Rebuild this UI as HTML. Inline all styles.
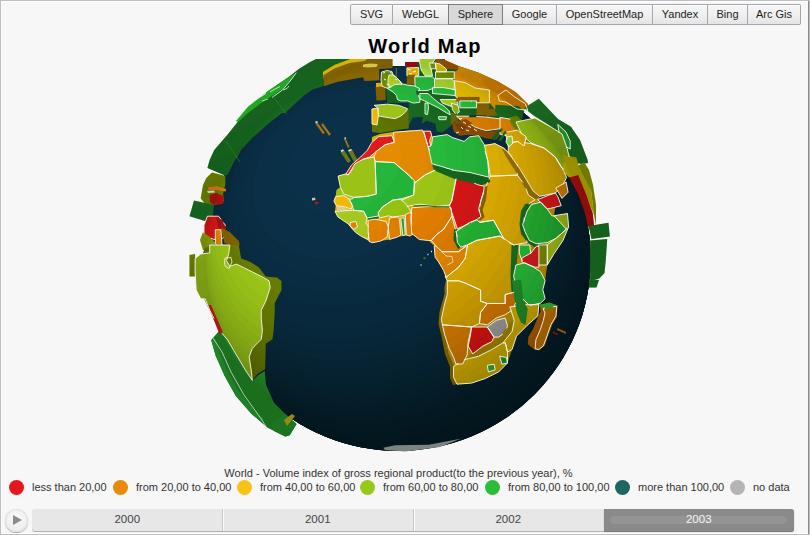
<!DOCTYPE html>
<html><head><meta charset="utf-8">
<style>
*{box-sizing:border-box;margin:0;padding:0}
html,body{width:810px;height:535px;overflow:hidden;background:#bfbfbf;font-family:"Liberation Sans",sans-serif}
#frame{position:absolute;left:1px;top:1px;width:807px;height:533px;background:#f7f7f7;box-shadow:inset 1px 1px 0 #fdfdfd,inset 0 -1px 0 #fdfdfd}
#rline{position:absolute;left:808px;top:1px;width:1px;height:533px;background:#8a8a8a}
.btn{position:absolute;top:4px;height:21px;border:1px solid #a4a6b0;border-left:none;background:linear-gradient(#f6f6f6,#f0f0f0 50%,#e4e4e4);font-size:11px;color:#222;text-align:center;line-height:18px;box-shadow:inset 0 1px 0 #fff}
.btn.first{border-left:1px solid #a4a6b0;border-radius:2px 0 0 2px}
.btn.last{border-radius:0 2px 2px 0}
.btn.nor{border-right:none}
.btn.sel{background:#d8d8d8;border:1px solid #7c7c7c;box-shadow:none}
#title{position:absolute;left:0;width:850px;top:34.5px;text-align:center;font-weight:bold;font-size:20px;letter-spacing:1.3px;color:#000}
#globe{position:absolute;left:0;top:0}
#ltitle{position:absolute;left:0;width:797px;top:466.5px;text-align:center;font-size:11px;color:#333}
.li{position:absolute;top:480px;height:15px;font-size:11px;color:#333;line-height:15px;white-space:nowrap}
.li i{position:absolute;left:0;top:0;width:15px;height:15px;border-radius:50%}
.li span{position:absolute;left:23px;top:0}
#play{position:absolute;left:5px;top:509px;width:23px;height:23px;border-radius:50%;background:radial-gradient(circle at 50% 40%,#fafafa,#e8e8e8);box-shadow:0 1px 1px #aaa, inset 0 0 0 1px #e0e0e0}
#play:after{content:"";position:absolute;left:8px;top:6px;border-left:9px solid #8c8c8c;border-top:5.5px solid transparent;border-bottom:5.5px solid transparent}
#tl{position:absolute;left:32px;top:509px;width:762px;height:22px;background:#e7e7e7;border-radius:3px;box-shadow:0 1px 0 #b0b0b0}
.yr{position:absolute;top:0;height:22px;width:190.5px;text-align:center;font-size:11.5px;line-height:20px;color:#444}
.div{position:absolute;top:0;width:1px;height:22px;background:#fafafa;box-shadow:-1px 0 0 #c8c8c8}
.yr.sel{background:#8a8a8a;color:#f4f4f4;border-radius:0 3px 3px 0;box-shadow:0 1px 1px #777}
.yr.sel:before{content:"";position:absolute;left:6px;right:7px;top:7px;height:8px;border-radius:4px;background:#949494}
.yr.sel b{position:relative;font-weight:normal}
</style></head><body>
<div id="frame"></div><div id="rline"></div>
<div class="btn first" style="left:350px;width:43px">SVG</div>
<div class="btn nor" style="left:393px;width:55px">WebGL</div>
<div class="btn sel" style="left:448px;width:55px">Sphere</div>
<div class="btn" style="left:503px;width:54px">Google</div>
<div class="btn" style="left:557px;width:96px">OpenStreetMap</div>
<div class="btn" style="left:653px;width:55px">Yandex</div>
<div class="btn" style="left:708px;width:40px">Bing</div>
<div class="btn last" style="left:748px;width:53px">Arc Gis</div>
<div id="title">World Map</div>
<svg id="globe" width="810" height="535" viewBox="0 0 810 535">
<defs>

<clipPath id="sph"><circle cx="398.3" cy="258.6" r="192.4"/></clipPath>
<clipPath id="landclip"><circle cx="398.3" cy="258.6" r="192.4"/>
<polygon points="207.4,168.0 209.6,160.0 214.2,150.0 227.4,134.8 246.0,111.4 268.5,90.8 290.0,75.9 298.7,69.0 310.0,62.0 318.0,58.0 351.0,58.0 349.6,59.5 334.8,65.0 323.0,72.0 324.0,80.0 326.7,84.9 312.7,89.6 304.3,95.2 293.0,105.5 285.0,113.0 281.6,113.3 268.5,123.6 251.7,138.5 241.0,150.0 237.7,156.7 234.9,160.0 227.6,174.7 225.4,175.8"/>
<polygon points="236.0,121.0 248.2,106.4 269.0,90.3 283.0,81.0 296.3,72.7 291.0,80.0 282.5,89.0 272.0,96.0 260.0,104.0 248.0,113.0 238.0,122.0"/>
<polygon points="323.0,72.0 334.8,65.0 349.6,59.5 351.0,58.0 392.6,58.0 392.6,68.3 379.3,69.1 379.3,80.2 364.4,80.9 363.0,77.2 337.8,81.7 324.4,86.1"/>
<polygon points="323.0,72.0 334.8,65.0 349.6,59.5 351.0,58.0 369.0,58.0 364.4,60.9 349.6,63.1 334.8,68.3 323.0,75.5"/>
<polygon points="363.0,64.5 370.0,63.5 377.8,63.9 376.5,67.0 368.0,67.6 363.0,67.0"/>
<polygon points="200.7,198.3 203.0,185.0 206.3,178.1 212.0,172.5 218.0,174.0 225.3,175.9 225.3,184.8 223.1,193.8 224.0,201.0 216.0,205.0 209.7,206.0 207.4,207.3"/>
<polygon points="209.7,195.0 216.0,193.0 224.2,196.0 223.0,204.0 214.0,205.0 210.0,202.0"/>
<polygon points="208.0,187.5 216.0,186.0 226.0,189.0 226.0,191.5 216.0,190.0 208.0,190.0"/>
<polygon points="207.0,191.0 214.0,190.5 215.0,192.5 208.0,193.0"/>
<polygon points="189.5,216.2 194.0,200.5 214.1,205.0 211.9,221.8 207.4,221.8"/>
<polygon points="204.0,225.2 207.4,216.2 218.6,216.2 225.3,225.2 225.3,236.4 218.6,240.9 211.9,238.6 207.4,238.6 204.0,234.2"/>
<polygon points="216.0,217.0 222.0,219.0 226.0,226.0 226.0,236.0 221.0,238.0"/>
<polygon points="215.3,229.7 220.9,229.7 222.0,245.3 218.6,247.6 215.3,243.1"/>
<polygon points="220.9,227.4 229.8,231.9 238.8,240.9 239.9,245.3 229.8,245.3 224.2,243.1"/>
<polygon points="203.0,232.0 211.9,238.6 215.3,243.1 215.0,250.0 203.0,250.0 200.0,240.0"/>
<polygon points="229.9,245.0 238.8,245.0 241.1,258.5 250.0,261.8 259.0,267.4 265.8,276.4 277.0,277.5 281.5,280.9 281.5,289.9 274.7,303.3 274.7,312.3 273.6,330.2 272.5,339.2 265.8,343.7 265.1,369.2 258.3,373.6 251.6,380.4 249.3,367.0 241.0,356.0 230.0,345.0 214.0,320.0 200.0,290.0 196.0,270.0 205.0,248.0 215.0,244.0"/>
<polygon points="189.5,255.0 195.1,254.0 195.1,276.4 189.5,276.4"/>
<polygon points="211.2,340.0 218.6,331.4 223.5,330.0 227.6,340.0 233.8,350.6 240.0,361.0 246.0,371.0 252.3,380.4 258.5,375.0 264.7,371.0 266.0,385.0 274.0,402.8 285.2,414.0 296.5,424.1 289.7,435.3 285.2,436.5 267.3,427.5 251.6,414.0 235.9,396.1 224.7,375.9 215.7,355.7"/>
<polygon points="211.2,340.0 215.7,355.7 224.7,375.9 235.9,396.1 251.6,414.0 262.0,422.0 264.0,419.0 254.0,410.0 240.0,393.0 229.0,374.0 220.0,354.0 215.5,339.0"/>
<polygon points="270.0,425.0 285.0,414.0 296.5,424.1 289.7,435.3 285.2,436.5 274.0,431.0"/>
<polygon points="284.0,420.0 292.0,414.0 295.0,416.0 287.0,426.0"/>
<polygon points="195.1,258.5 200.7,254.0 209.7,252.9 209.7,245.0 229.9,245.0 228.7,254.0 226.5,260.7 229.9,266.3 236.6,264.1 243.3,267.4 252.3,271.9 263.5,277.5 269.1,280.9 270.2,287.6 265.8,301.1 261.3,310.1 261.3,319.0 262.4,330.2 261.3,339.2 256.8,343.7 252.3,348.5 249.2,356.7 251.3,371.0 252.3,380.4 246.0,371.0 240.0,361.0 233.8,350.6 227.6,340.0 221.0,332.0 214.2,319.0 209.7,310.1 205.2,298.8 200.7,298.8 196.2,289.9 195.1,271.9"/>
<polygon points="208.0,305.0 211.0,305.0 222.0,330.0 223.0,334.0 219.0,333.0"/>
<polygon points="386.0,86.0 393.0,84.0 393.0,68.0 405.0,67.0 405.0,62.0 419.0,62.0 421.0,58.0 445.0,58.0 445.0,61.0 460.0,66.5 478.7,72.8 497.4,81.2 516.0,92.4 528.2,104.5 524.0,110.0 522.0,120.0 500.0,120.0 490.0,117.0 470.0,117.0 457.0,116.5 454.3,113.8 450.3,126.6 442.4,132.5 436.5,131.6 435.5,123.7 426.6,120.7 421.7,123.7 422.7,116.7 412.8,117.7 408.8,125.6 408.8,103.0 397.5,103.1 387.4,103.1"/>
<polygon points="393.0,67.5 406.0,67.0 406.9,70.0 406.9,83.0 401.0,84.5 398.6,81.8 396.4,77.3 393.0,72.8"/>
<polygon points="375.5,86.5 385.2,85.7 385.7,100.0 376.5,100.5"/>
<polygon points="376.0,83.0 384.5,82.5 384.8,86.5 376.0,87.0"/>
<polygon points="381.5,72.0 387.0,70.5 392.0,71.5 393.0,75.0 396.0,77.0 399.5,80.5 402.0,84.0 399.0,86.0 392.0,87.5 386.0,88.0 382.0,86.0 381.0,80.0"/>
<polygon points="389.0,75.0 393.0,75.0 396.0,77.0 399.5,80.5 402.0,84.0 399.0,86.0 392.0,87.5 388.0,86.0 388.0,80.0"/>
<polygon points="405.4,62.0 418.7,61.9 417.5,66.0 410.0,68.0 406.0,67.9"/>
<polygon points="406.9,67.9 418.7,67.5 418.7,75.8 406.9,75.8"/>
<polygon points="406.9,74.8 415.7,74.8 415.7,84.6 406.9,84.6"/>
<polygon points="419.0,58.0 436.0,58.0 432.5,62.9 431.0,68.0 432.5,75.8 425.0,75.8 421.2,70.0 419.5,62.0"/>
<polygon points="429.6,63.0 435.5,62.9 435.5,68.8 430.5,68.8"/>
<polygon points="436.0,58.0 445.0,60.0 452.0,63.0 458.2,66.0 458.2,69.8 446.4,69.0 440.0,64.0 435.5,62.9"/>
<polygon points="435.5,62.9 440.0,64.0 446.4,69.0 446.4,71.8 436.5,71.8"/>
<polygon points="445.0,60.0 460.0,66.5 478.7,72.8 497.4,81.2 516.0,92.4 528.2,104.5 524.3,109.9 520.0,112.7 497.3,112.0 489.4,102.8 489.4,90.0 475.0,88.0 465.0,82.5 454.3,80.7 454.3,71.8 458.2,69.8 458.2,66.0 452.0,63.0"/>
<polygon points="480.0,75.0 497.4,81.2 516.0,92.4 528.2,104.5 524.3,109.9 520.0,112.7 510.0,110.0 505.0,100.0 495.0,92.0 485.0,85.0"/>
<polygon points="435.5,71.8 454.3,71.8 454.3,78.7 435.5,78.7"/>
<polygon points="434.5,78.7 452.0,78.7 454.3,82.0 454.3,89.6 434.5,89.6"/>
<polygon points="454.3,80.7 465.0,82.5 475.0,88.0 489.4,90.0 489.4,102.8 476.5,102.8 455.8,96.9 455.2,89.6"/>
<polygon points="414.8,76.7 432.5,76.7 434.5,79.0 434.5,88.0 427.0,90.6 415.7,90.6 415.0,84.6"/>
<polygon points="387.4,88.5 395.0,84.5 403.0,84.0 407.6,85.2 414.8,86.0 419.7,88.6 417.7,94.0 420.0,99.0 419.7,102.4 413.2,103.1 407.6,100.9 400.9,100.9 397.5,99.7 396.4,95.3 393.0,91.9"/>
<polygon points="386.3,90.8 396.4,95.3 397.5,103.1 387.4,103.1"/>
<polygon points="415.7,90.6 426.6,90.6 426.6,95.5 417.0,95.5"/>
<polygon points="432.5,87.6 443.4,87.6 455.2,89.6 455.2,95.5 432.5,93.5"/>
<polygon points="419.7,93.5 428.0,93.5 433.5,98.6 439.1,103.1 444.7,106.5 449.2,111.0 450.3,114.8 446.4,112.8 438.5,107.9 430.6,103.9 424.6,100.9 420.0,99.0"/>
<polygon points="425.0,103.0 428.0,103.0 428.5,108.0 427.5,114.5 425.0,114.0"/>
<polygon points="438.5,116.7 446.4,116.7 446.0,119.7 439.0,119.7"/>
<polygon points="440.2,99.5 456.2,99.5 458.1,103.1 457.0,108.7 451.4,106.5 442.4,103.1"/>
<polygon points="451.4,103.1 458.1,105.3 459.3,112.1 455.9,114.3 452.5,109.8"/>
<polygon points="455.8,96.9 479.5,96.9 479.5,101.9 455.8,101.9"/>
<polygon points="459.8,100.9 476.5,100.9 476.5,107.8 459.8,107.8"/>
<polygon points="476.5,102.8 489.4,102.8 489.4,116.7 476.5,116.7"/>
<polygon points="484.4,108.8 497.3,108.8 497.3,115.7 484.4,115.7"/>
<polygon points="469.6,115.7 484.4,115.7 484.4,118.6 469.6,118.6"/>
<polygon points="374.0,111.0 376.2,116.0 395.0,118.7 399.9,115.8 407.8,108.8 408.8,109.0 408.8,128.6 400.9,129.6 395.0,130.6 380.0,133.0 372.0,132.0 371.9,125.0"/>
<polygon points="374.0,105.3 387.4,104.2 398.6,105.3 407.6,108.7 405.4,112.1 400.9,116.0 395.0,118.7 378.4,116.0 378.0,108.0"/>
<polygon points="371.9,109.0 378.0,108.0 378.4,116.0 377.0,125.0 372.0,124.0"/>
<polygon points="451.9,123.8 457.8,119.9 469.7,124.8 479.6,129.8 487.5,131.7 500.3,129.8 500.3,134.7 496.4,139.6 486.5,138.6 477.6,135.7 467.7,134.7 459.8,135.7 453.9,131.7"/>
<polygon points="455.0,125.0 460.0,123.0 466.0,127.0 464.0,131.0 458.0,130.0"/>
<polygon points="450.9,113.0 457.8,113.0 459.0,117.9 457.8,119.9 451.9,123.8 450.5,126.0"/>
<polygon points="456.5,116.2 469.7,116.2 484.5,116.9 500.3,118.9 510.2,120.9 514.1,125.8 509.2,129.8 500.3,128.8 492.4,129.8 486.5,130.7 479.6,128.8 474.6,126.8 469.7,123.8 462.8,121.9"/>
<polygon points="460.0,120.0 466.0,119.0 472.0,123.0 470.0,127.0 464.0,125.0"/>
<polygon points="468.7,115.4 486.5,115.4 486.5,117.0 468.7,117.2"/>
<polygon points="446.4,277.9 448.2,290.0 447.3,294.2 444.7,303.5 442.4,312.4 441.3,323.6 444.7,334.9 448.0,352.8 453.6,366.3 453.6,377.5 457.0,384.2 453.0,385.0 450.0,378.0 450.0,367.0 445.0,354.0 441.5,336.0 438.5,324.0 439.5,312.0 442.0,303.0 444.5,294.0 444.5,287.0"/>
<polygon points="372.0,137.0 380.0,134.0 393.0,132.0 410.0,130.5 423.7,131.0 430.5,131.0 432.7,136.8 447.3,134.6 452.3,137.5 464.1,141.4 469.7,136.8 478.7,135.7 484.0,144.5 495.0,143.6 501.6,148.1 508.3,152.6 519.5,168.3 526.3,179.5 533.0,190.8 539.7,196.4 538.3,200.0 556.3,200.0 554.0,215.7 567.5,213.5 568.6,226.9 563.0,240.4 554.0,253.8 547.3,265.0 545.1,280.8 542.8,289.7 545.1,298.7 540.6,303.2 538.9,304.0 537.8,315.9 527.7,324.9 516.5,336.1 512.0,349.6 507.5,363.0 498.5,372.0 485.1,378.6 471.6,383.1 457.0,384.2 453.6,377.5 453.6,366.3 448.0,352.8 444.7,334.9 441.3,323.6 442.4,312.4 444.7,303.5 447.3,294.2 448.2,290.0 446.4,277.9 443.6,270.4 438.0,261.0 435.1,257.3 434.2,246.1 428.6,240.5 419.3,239.5 413.6,234.9 404.3,235.8 397.3,237.1 389.5,239.4 380.5,241.1 372.6,242.7 369.3,241.6 362.5,237.1 355.8,232.6 351.3,228.2 348.0,223.7 341.2,219.2 337.9,216.9 335.0,211.3 335.6,205.7 333.9,201.2 336.2,194.5 336.7,190.0 340.4,187.3 338.1,176.1 346.0,173.8 348.2,175.0 353.8,167.1 358.3,163.7 362.8,159.3 369.5,157.0 376.3,151.4 371.8,142.4"/>
<polygon points="483.0,146.0 495.0,143.6 504.0,148.0 511.0,155.0 517.0,164.0 524.0,184.0 528.5,195.2 535.0,199.7 528.0,204.0 524.0,215.0 527.0,242.0 515.0,246.0 516.0,265.0 513.6,276.3 515.9,292.0 505.0,303.5 487.0,303.5 480.6,301.2 480.6,290.0 446.9,290.0 447.3,276.3 458.5,267.3 465.2,258.3 467.5,244.9 476.5,240.4 483.0,218.0 480.0,200.0 486.0,186.0 490.0,176.0"/>
<polygon points="371.8,142.4 378.5,136.8 392.0,135.7 394.2,142.4 385.2,144.7 376.3,151.4 369.5,157.0 362.8,159.3 358.3,163.7 353.8,167.1 348.2,175.0 346.0,173.8 351.6,164.9 360.6,157.0 367.3,150.3"/>
<polygon points="393.5,132.3 410.0,131.0 422.6,130.1 424.9,135.7 428.2,146.9 435.0,164.9 437.2,169.3 424.9,175.0 414.8,182.8 409.9,176.1 394.2,162.6 375.1,161.5 374.0,157.0 376.3,151.4 385.2,144.7 394.2,142.4"/>
<polygon points="423.7,131.2 430.5,131.2 431.5,135.5 429.6,140.4 430.6,146.0 428.2,146.9 424.9,135.7"/>
<polygon points="483.6,145.9 494.9,143.6 503.8,148.1 510.6,154.9 517.3,163.8 517.3,175.1 490.4,176.2 487.7,160.4"/>
<polygon points="490.4,176.2 517.3,175.1 524.0,184.0 528.5,195.2 535.2,199.7 528.5,204.2 524.0,215.4 524.9,231.4 527.1,242.6 513.6,244.9 504.7,240.4 493.5,220.2 480.0,222.4 478.7,213.5 481.0,200.0 484.0,190.0 486.0,186.0"/>
<polygon points="348.2,175.0 355.0,163.7 362.8,159.3 374.0,157.0 375.1,161.5 376.3,194.0 367.3,196.3 353.8,197.4 343.7,194.0 340.4,187.3 338.1,176.1 346.0,173.8"/>
<polygon points="375.1,161.5 394.2,162.6 409.9,176.1 414.4,180.6 413.6,195.1 400.7,199.0 392.8,200.1 382.7,206.8 378.3,212.4 378.3,216.0 367.0,218.0 363.7,211.3 353.6,210.2 352.4,205.7 349.1,199.0 352.4,199.0 353.8,197.4 367.3,196.3 376.3,194.0"/>
<polygon points="414.8,182.8 424.9,175.0 437.2,169.3 451.8,168.2 455.1,176.1 456.3,178.3 451.8,200.8 449.5,205.2 436.1,206.4 420.4,204.1 413.6,205.2 406.9,206.4 400.2,200.8 413.6,195.1"/>
<polygon points="483.0,186.0 487.5,186.0 486.0,200.0 482.5,210.0 484.5,217.0 479.0,222.0 476.5,219.8 480.9,216.5 478.7,208.6 480.9,200.8 483.2,194.0"/>
<polygon points="456.3,176.1 478.7,185.0 484.3,186.2 483.2,194.0 480.9,200.8 478.7,208.6 480.9,216.5 476.5,219.8 469.7,223.2 457.4,228.8 454.0,218.7 449.5,205.2 451.8,200.8 455.1,182.8"/>
<polygon points="428.2,146.9 431.6,144.7 435.0,164.9 432.0,163.8 434.3,170.5 433.0,168.0"/>
<polygon points="432.0,163.8 440.0,166.0 454.5,170.5 470.0,172.5 489.0,177.2 490.4,182.0 490.0,182.0 481.5,185.6 454.5,179.0 434.3,170.5"/>
<polygon points="431.6,144.7 432.7,136.8 447.3,134.6 452.3,137.5 464.1,141.4 469.7,136.8 478.7,135.7 484.3,144.7 487.7,160.4 489.0,177.2 470.0,172.5 454.5,170.5 440.0,166.0 432.0,163.8 428.2,146.9 430.6,146.0"/>
<polygon points="336.7,190.0 340.4,187.3 343.7,194.0 353.8,197.4 352.4,199.0 349.1,199.0 343.5,195.6 335.6,196.7"/>
<polygon points="335.6,196.7 343.5,195.6 349.1,199.0 352.4,205.7 351.3,209.1 344.6,206.8 336.7,205.7 333.9,201.2"/>
<polygon points="336.0,206.0 345.0,207.5 349.0,210.0 346.0,211.5 337.0,210.0"/>
<polygon points="335.0,211.3 341.0,211.0 353.6,210.2 363.7,211.3 367.0,218.0 365.9,223.7 369.3,227.0 368.2,239.4 362.5,237.1 355.8,232.6 348.0,223.7 341.2,219.2 337.9,216.9"/>
<polygon points="350.2,222.5 355.8,221.4 357.5,227.0 353.6,229.3 350.2,225.9"/>
<polygon points="378.3,212.4 382.7,206.8 392.8,200.1 400.7,199.0 406.3,204.6 410.0,210.0 411.4,212.0 410.0,215.8 401.8,215.8 392.8,216.9 388.3,215.8 379.4,218.0"/>
<polygon points="367.0,218.0 378.3,216.0 379.4,218.0 368.5,220.5"/>
<polygon points="368.2,220.3 374.9,219.2 386.1,221.4 388.3,227.0 387.2,237.1 380.5,241.1 372.6,242.7 369.3,241.6 368.2,232.6"/>
<polygon points="389.5,218.0 397.3,216.9 399.6,219.2 400.7,234.9 397.3,237.1 389.5,239.4 388.3,227.0"/>
<polygon points="400.7,218.0 404.1,218.0 405.2,234.9 402.9,235.5"/>
<polygon points="405.2,214.7 411.4,212.0 411.4,222.4 413.6,233.6 410.0,236.0 406.3,235.0"/>
<polygon points="411.8,207.8 424.9,206.7 436.1,206.4 451.0,207.8 452.0,216.2 443.6,229.3 436.1,234.9 431.4,240.5 428.6,240.5 419.3,239.5 413.6,234.9 411.8,233.9 410.8,218.0"/>
<polygon points="452.0,216.2 454.8,227.4 458.5,240.5 466.0,246.1 458.5,251.7 441.7,251.7 436.1,246.1 431.4,240.5 436.1,234.9 443.6,229.3"/>
<polygon points="434.2,246.1 436.1,246.1 441.7,251.7 458.5,251.7 466.0,246.1 467.5,244.9 465.2,258.3 458.5,267.3 447.3,276.3 446.4,277.9 443.6,270.4 438.0,261.0 435.1,257.3"/>
<polygon points="456.3,231.4 469.7,222.4 476.5,219.8 480.0,222.4 493.5,220.2 504.7,240.4 500.0,236.0 476.5,240.4 467.5,244.9 460.8,247.1 457.4,242.6"/>
<polygon points="457.4,228.8 456.3,231.4 457.4,242.6 460.8,247.1 458.0,249.0 453.5,240.0 454.0,229.0"/>
<polygon points="467.5,244.9 476.5,240.4 500.0,236.0 513.6,244.9 515.9,253.8 513.6,276.3 515.9,285.2 516.0,292.0 505.2,294.5 505.2,303.5 487.3,303.5 480.6,301.2 480.6,290.0 465.2,283.0 458.5,280.8 447.3,280.8 445.1,276.3 447.3,276.3 458.5,267.3 465.2,258.3"/>
<polygon points="447.3,280.8 458.5,280.8 465.2,283.0 480.6,290.0 480.6,301.2 487.3,303.5 480.6,312.4 479.4,323.6 471.6,327.0 442.4,324.8 441.3,319.2 444.7,303.5 447.3,294.2"/>
<polygon points="525.0,204.0 531.6,203.0 529.7,205.7 527.0,211.0 524.0,220.0 525.0,229.0 530.0,238.0 536.0,243.0 545.4,243.5 545.4,246.5 534.0,247.0 527.0,242.0 521.0,234.0 519.5,224.0 521.0,211.0"/>
<polygon points="531.6,204.5 540.6,202.2 547.3,209.0 551.8,215.7 563.0,217.9 566.4,229.2 556.3,238.1 547.3,242.6 536.1,243.7 529.3,240.4 524.9,231.4 522.6,224.7 527.1,211.2"/>
<polygon points="554.0,215.7 567.5,213.5 568.6,226.9 563.0,240.4 554.0,253.8 547.3,265.0 547.3,244.9 556.3,238.1 566.4,229.2"/>
<polygon points="538.3,244.9 547.3,244.9 547.3,265.0 538.3,265.0"/>
<polygon points="519.3,245.0 529.7,245.0 531.0,255.4 521.9,260.7 519.3,252.8"/>
<polygon points="521.9,258.0 531.0,253.0 536.3,246.3 538.9,246.3 538.9,267.2 535.0,267.2 521.9,262.0"/>
<polygon points="511.5,245.0 518.5,245.0 517.0,260.0 516.6,266.0 517.0,280.0 519.3,294.7 524.5,302.0 525.5,321.0 518.5,321.0 515.5,306.0 511.5,292.0 510.5,275.0 511.0,260.0"/>
<polygon points="515.9,265.0 524.9,262.8 533.8,267.3 540.6,271.8 545.1,280.8 542.8,289.7 545.1,298.7 540.6,303.2 529.3,305.4 524.9,300.9 518.1,294.2 515.9,285.2 513.6,276.3"/>
<polygon points="487.3,303.5 505.2,303.5 505.2,294.5 514.2,292.2 516.5,301.2 512.0,310.2 505.2,314.7 496.3,318.0 487.3,324.8 479.4,323.6 480.6,312.4"/>
<polygon points="453.6,366.3 464.9,359.5 469.4,358.5 478.3,356.3 491.8,349.6 503.0,342.8 505.3,342.8 507.5,352.0 507.5,363.0 498.5,372.0 485.1,378.6 471.6,383.1 457.0,384.2 453.6,377.5"/>
<polygon points="509.8,306.9 525.5,304.7 536.7,304.7 538.9,304.0 537.8,315.9 527.7,324.9 516.5,336.1 512.0,349.6 507.5,352.0 505.3,342.8 503.0,342.8 512.0,331.6 514.3,320.4"/>
<polygon points="512.0,280.0 521.0,280.0 523.2,298.0 527.7,309.2 525.5,324.9 521.0,322.6 516.5,311.4 514.3,298.0"/>
<polygon points="442.4,324.8 471.6,327.0 468.2,341.6 467.1,355.1 462.6,364.0 455.9,364.0 453.6,357.3 449.2,348.3 444.7,334.9"/>
<polygon points="471.6,327.0 487.3,327.0 494.0,337.1 491.8,341.6 482.8,346.1 472.7,353.9 468.2,346.1 470.5,334.9"/>
<polygon points="487.3,327.0 496.3,320.3 505.2,318.0 507.5,325.9 505.2,332.6 498.5,337.1 494.0,337.1"/>
<polygon points="471.6,354.1 487.3,345.1 500.8,336.1 509.8,322.6 514.3,320.4 512.0,331.6 503.0,342.8 491.8,349.6 478.3,356.3 469.4,358.5"/>
<polygon points="487.3,365.3 494.1,364.2 495.2,369.8 488.4,372.0"/>
<polygon points="499.7,356.3 506.4,357.4 507.5,363.0 501.9,364.2"/>
<polygon points="539.6,304.7 549.3,302.4 557.5,305.4 556.8,317.4 552.3,324.8 547.8,336.8 544.8,345.8 538.9,350.3 534.4,349.5 527.7,344.3 528.4,336.8 532.9,329.3 535.9,321.9 540.4,311.4"/>
<polygon points="543.0,308.5 556.8,306.2 556.0,316.0 550.8,324.8 546.3,338.0 543.4,345.8 538.9,349.5 535.1,348.8 535.9,339.8 540.4,329.3 543.4,320.4 544.9,312.9"/>
<polygon points="539.6,304.7 549.3,302.4 557.5,305.4 552.0,308.0 543.0,309.0"/>
<polygon points="557.5,328.0 566.0,332.0 566.0,334.0 557.0,330.0"/>
<polygon points="553.0,331.5 558.0,334.0 557.0,335.0 553.0,333.0"/>
<polygon points="383.3,447.7 395.2,445.3 428.8,444.7 460.4,438.8 470.0,435.0 440.0,447.0 405.0,451.5 385.0,450.0"/>
<polygon points="340.5,152.0 344.0,150.0 351.0,161.0 348.0,163.0"/>
<polygon points="348.0,151.0 352.0,149.5 357.5,160.0 354.0,162.0"/>
<polygon points="312.0,198.0 315.0,197.5 315.5,200.0 312.0,200.5"/>
<polygon points="315.0,202.0 318.0,201.5 318.5,204.0 315.0,204.5"/>
<polygon points="495.3,104.8 518.7,106.2 524.3,111.8 520.6,117.4 500.0,119.3 495.3,112.0"/>
<polygon points="524.0,108.0 538.8,98.8 558.0,119.0 571.0,126.7 580.0,140.0 587.5,159.4 588.0,163.0 582.0,164.0 575.7,163.1 567.3,153.8 563.6,139.8 553.8,129.2 548.6,124.9 533.6,115.5"/>
<polygon points="557.8,124.4 566.0,132.0 570.2,141.0 570.2,149.1 565.0,146.0 560.0,138.0"/>
<polygon points="500.0,117.4 511.2,119.3 518.7,130.5 526.2,136.1 533.6,145.4 528.0,151.0 518.7,143.6 507.5,136.1 500.0,134.2"/>
<polygon points="509.3,117.4 516.8,115.5 524.3,123.0 537.4,141.7 548.6,154.8 561.7,166.0 556.1,169.7 543.0,158.5 531.8,147.3 520.6,134.2 511.2,124.9"/>
<polygon points="516.0,122.0 535.0,118.0 551.0,127.0 562.0,134.0 567.0,148.0 570.0,160.0 570.0,172.0 562.0,168.0 555.0,157.0 544.0,148.0 531.0,143.0 522.0,135.0"/>
<polygon points="508.3,143.6 517.3,141.4 530.8,143.6 544.2,148.1 555.4,157.1 562.2,168.3 566.6,177.3 562.2,186.3 555.4,193.0 539.7,196.4 533.0,190.8 526.3,179.5 519.5,168.3 508.3,152.6"/>
<polygon points="505.0,132.4 517.3,130.2 526.3,136.9 524.0,145.9 517.3,141.4 508.3,143.6"/>
<polygon points="507.0,137.0 512.0,136.0 513.0,143.0 509.0,147.0 506.0,142.0"/>
<polygon points="491.4,138.0 500.0,128.0 503.0,129.0 495.0,140.0"/>
<polygon points="498.0,140.0 505.0,131.0 507.5,132.0 501.0,141.0"/>
<polygon points="501.6,148.1 508.3,152.6 519.5,168.3 526.3,179.5 533.0,190.8 539.7,196.4 535.2,199.7 528.5,195.2 521.8,181.8 515.0,170.6 506.1,157.1"/>
<polygon points="537.5,199.7 548.7,195.2 555.4,193.0 558.0,197.0 561.2,205.7 550.7,208.3 547.3,209.0 540.6,202.2"/>
<polygon points="555.8,188.1 566.1,182.0 568.1,192.2 562.0,198.4"/>
<polygon points="562.0,155.2 576.3,157.3 580.5,171.7 568.1,173.7 566.0,165.0"/>
<polygon points="563.0,163.0 572.0,160.0 578.3,165.7 586.0,175.0 591.0,190.0 594.0,215.0 586.0,195.0 578.3,176.0 569.2,177.5 563.0,172.0"/>
<polygon points="578.3,165.7 584.0,162.0 589.0,170.0 593.0,185.0 596.0,205.0 596.0,225.0 594.0,215.0 591.0,190.0"/>
<polygon points="569.2,177.5 578.3,174.9 586.2,194.5 592.7,212.9 594.1,226.0 592.7,231.2 588.8,228.6 584.9,212.9 578.3,194.5"/>
<polygon points="588.8,226.0 608.5,222.8 609.8,236.5 591.4,239.1"/>
<polygon points="590.1,240.4 607.2,239.1 605.8,260.0 604.5,273.1 599.3,278.4 590.1,281.0"/>
<polygon points="589.0,279.0 599.0,280.0 596.5,287.6 589.0,287.6"/>
</clipPath>
<clipPath id="clipTop"><rect x="0" y="59" width="810" height="420"/></clipPath>
</defs>
<g clip-path="url(#clipTop)">
<g clip-path="url(#sph)">
<circle cx="398.3" cy="258.6" r="192.4" fill="#041e29"/>
<ellipse cx="432.93" cy="318.62" rx="123.11" ry="153.92" transform="rotate(-119.98 432.93 318.62)" fill="#041f2a"/>
<polygon points="840.9,225.3 147.9,625.1 -52.0,278.6 641.0,-121.2" fill="#041f2a"/>
<ellipse cx="430.04" cy="313.62" rx="128.52" ry="160.69" transform="rotate(-119.98 430.04 313.62)" fill="#04202b"/>
<polygon points="832.9,211.4 139.9,611.2 -60.0,264.7 633.0,-135.1" fill="#04202b"/>
<ellipse cx="427.15" cy="308.61" rx="133.27" ry="166.62" transform="rotate(-119.98 427.15 308.61)" fill="#04202d"/>
<polygon points="824.9,197.5 131.9,597.3 -68.0,250.8 625.0,-148.9" fill="#04202d"/>
<ellipse cx="424.27" cy="303.61" rx="137.43" ry="171.82" transform="rotate(-119.98 424.27 303.61)" fill="#04212e"/>
<polygon points="816.9,183.7 123.9,583.4 -76.0,237.0 617.0,-162.8" fill="#04212e"/>
<ellipse cx="421.38" cy="298.61" rx="141.04" ry="176.34" transform="rotate(-119.98 421.38 298.61)" fill="#04222f"/>
<polygon points="808.8,169.8 115.9,569.6 -84.0,223.1 609.0,-176.7" fill="#04222f"/>
<ellipse cx="418.50" cy="293.61" rx="144.16" ry="180.23" transform="rotate(-119.98 418.50 293.61)" fill="#042330"/>
<polygon points="800.8,155.9 107.9,555.7 -92.0,209.2 601.0,-190.6" fill="#042330"/>
<ellipse cx="415.61" cy="288.61" rx="146.80" ry="183.54" transform="rotate(-119.98 415.61 288.61)" fill="#042431"/>
<polygon points="792.8,142.0 99.9,541.8 -100.0,195.3 592.9,-204.5" fill="#042431"/>
<ellipse cx="412.73" cy="283.61" rx="149.00" ry="186.29" transform="rotate(-119.98 412.73 283.61)" fill="#052432"/>
<polygon points="784.8,128.1 91.9,527.9 -108.0,181.4 584.9,-218.3" fill="#052432"/>
<ellipse cx="409.84" cy="278.61" rx="150.78" ry="188.51" transform="rotate(-119.98 409.84 278.61)" fill="#052533"/>
<polygon points="776.8,114.2 83.9,514.0 -116.0,167.5 576.9,-232.2" fill="#052533"/>
<ellipse cx="406.96" cy="273.60" rx="152.15" ry="190.22" transform="rotate(-119.98 406.96 273.60)" fill="#052634"/>
<polygon points="768.8,100.4 75.9,500.1 -124.0,153.7 568.9,-246.1" fill="#052634"/>
<ellipse cx="404.07" cy="268.60" rx="153.12" ry="191.44" transform="rotate(-119.98 404.07 268.60)" fill="#052735"/>
<polygon points="760.8,86.5 67.8,486.3 -132.0,139.8 560.9,-260.0" fill="#052735"/>
<ellipse cx="401.19" cy="263.60" rx="153.70" ry="192.16" transform="rotate(-119.98 401.19 263.60)" fill="#052836"/>
<polygon points="752.8,72.6 59.8,472.4 -140.1,125.9 552.9,-273.9" fill="#052836"/>
<ellipse cx="398.30" cy="258.60" rx="153.89" ry="192.40" transform="rotate(-119.98 398.30 258.60)" fill="#052838"/>
<polygon points="744.8,58.7 51.8,458.5 -148.1,112.0 544.9,-287.8" fill="#052838"/>
<ellipse cx="395.41" cy="253.60" rx="153.70" ry="192.16" transform="rotate(-119.98 395.41 253.60)" fill="#062939"/>
<polygon points="736.8,44.8 43.8,444.6 -156.1,98.1 536.9,-301.6" fill="#062939"/>
<ellipse cx="392.53" cy="248.60" rx="153.12" ry="191.44" transform="rotate(-119.98 392.53 248.60)" fill="#062a3b"/>
<polygon points="728.8,30.9 35.8,430.7 -164.1,84.2 528.9,-315.5" fill="#062a3b"/>
<ellipse cx="389.64" cy="243.60" rx="152.15" ry="190.22" transform="rotate(-119.98 389.64 243.60)" fill="#062a3c"/>
<polygon points="720.7,17.1 27.8,416.8 -172.1,70.4 520.9,-329.4" fill="#062a3c"/>
<ellipse cx="386.76" cy="238.59" rx="150.78" ry="188.51" transform="rotate(-119.98 386.76 238.59)" fill="#072b3d"/>
<polygon points="712.7,3.2 19.8,403.0 -180.1,56.5 512.8,-343.3" fill="#072b3d"/>
<ellipse cx="383.87" cy="233.59" rx="149.00" ry="186.29" transform="rotate(-119.98 383.87 233.59)" fill="#072c3f"/>
<polygon points="704.7,-10.7 11.8,389.1 -188.1,42.6 504.8,-357.2" fill="#072c3f"/>
<ellipse cx="380.99" cy="228.59" rx="146.80" ry="183.54" transform="rotate(-119.98 380.99 228.59)" fill="#072c40"/>
<polygon points="696.7,-24.6 3.8,375.2 -196.1,28.7 496.8,-371.1" fill="#072c40"/>
<ellipse cx="378.10" cy="223.59" rx="144.16" ry="180.23" transform="rotate(-119.98 378.10 223.59)" fill="#082d41"/>
<polygon points="688.7,-38.5 -4.2,361.3 -204.1,14.8 488.8,-384.9" fill="#082d41"/>
<ellipse cx="375.22" cy="218.59" rx="141.04" ry="176.34" transform="rotate(-119.98 375.22 218.59)" fill="#082d42"/>
<polygon points="680.7,-52.4 -12.2,347.4 -212.1,1.0 480.8,-398.8" fill="#082d42"/>
<ellipse cx="372.33" cy="213.59" rx="137.43" ry="171.82" transform="rotate(-119.98 372.33 213.59)" fill="#082e43"/>
<polygon points="672.7,-66.2 -20.3,333.5 -220.1,-12.9 472.8,-412.7" fill="#082e43"/>
<ellipse cx="369.45" cy="208.59" rx="133.27" ry="166.62" transform="rotate(-119.98 369.45 208.59)" fill="#082e44"/>
<polygon points="664.7,-80.1 -28.3,319.7 -228.2,-26.8 464.8,-426.6" fill="#082e44"/>
<ellipse cx="366.56" cy="203.58" rx="128.52" ry="160.69" transform="rotate(-119.98 366.56 203.58)" fill="#092f45"/>
<polygon points="656.7,-94.0 -36.3,305.8 -236.2,-40.7 456.8,-440.5" fill="#092f45"/>
<ellipse cx="363.67" cy="198.58" rx="123.11" ry="153.92" transform="rotate(-119.98 363.67 198.58)" fill="#092f45"/>
<polygon points="648.7,-107.9 -44.3,291.9 -244.2,-54.6 448.8,-454.4" fill="#092f45"/>
<ellipse cx="360.79" cy="193.58" rx="116.95" ry="146.21" transform="rotate(-119.98 360.79 193.58)" fill="#092f46"/>
<ellipse cx="357.90" cy="188.58" rx="109.90" ry="137.40" transform="rotate(-119.98 357.90 188.58)" fill="#093047"/>
<ellipse cx="355.02" cy="183.58" rx="101.79" ry="127.26" transform="rotate(-119.98 355.02 183.58)" fill="#0a3048"/>
<ellipse cx="352.13" cy="178.58" rx="92.33" ry="115.44" transform="rotate(-119.98 352.13 178.58)" fill="#0a3048"/>
<ellipse cx="349.25" cy="173.58" rx="81.07" ry="101.35" transform="rotate(-119.98 349.25 173.58)" fill="#0a3149"/>
<ellipse cx="346.36" cy="168.57" rx="67.08" ry="83.87" transform="rotate(-119.98 346.36 168.57)" fill="#0a314a"/>
<ellipse cx="343.48" cy="163.57" rx="48.05" ry="60.08" transform="rotate(-119.98 343.48 163.57)" fill="#0a314a"/>
</g>
<polygon fill="#197323" points="207.4,168.0 209.6,160.0 214.2,150.0 227.4,134.8 246.0,111.4 268.5,90.8 290.0,75.9 298.7,69.0 310.0,62.0 318.0,58.0 351.0,58.0 349.6,59.5 334.8,65.0 323.0,72.0 324.0,80.0 326.7,84.9 312.7,89.6 304.3,95.2 293.0,105.5 285.0,113.0 281.6,113.3 268.5,123.6 251.7,138.5 241.0,150.0 237.7,156.7 234.9,160.0 227.6,174.7 225.4,175.8"/>
<polygon fill="#26c42b" points="236.0,121.0 248.2,106.4 269.0,90.3 283.0,81.0 296.3,72.7 291.0,80.0 282.5,89.0 272.0,96.0 260.0,104.0 248.0,113.0 238.0,122.0"/>
<polygon fill="#997300" points="323.0,72.0 334.8,65.0 349.6,59.5 351.0,58.0 392.6,58.0 392.6,68.3 379.3,69.1 379.3,80.2 364.4,80.9 363.0,77.2 337.8,81.7 324.4,86.1"/>
<polygon fill="#ffd300" points="323.0,72.0 334.8,65.0 349.6,59.5 351.0,58.0 369.0,58.0 364.4,60.9 349.6,63.1 334.8,68.3 323.0,75.5"/>
<polygon fill="#ffee57" points="363.0,64.5 370.0,63.5 377.8,63.9 376.5,67.0 368.0,67.6 363.0,67.0"/>
<polygon fill="#799100" points="200.7,198.3 203.0,185.0 206.3,178.1 212.0,172.5 218.0,174.0 225.3,175.9 225.3,184.8 223.1,193.8 224.0,201.0 216.0,205.0 209.7,206.0 207.4,207.3"/>
<polygon fill="#c41414" points="209.7,195.0 216.0,193.0 224.2,196.0 223.0,204.0 214.0,205.0 210.0,202.0"/>
<polygon fill="#fe8714" points="208.0,187.5 216.0,186.0 226.0,189.0 226.0,191.5 216.0,190.0 208.0,190.0"/>
<polygon fill="#fffff5" points="207.0,191.0 214.0,190.5 215.0,192.5 208.0,193.0"/>
<polygon fill="#1b7d26" points="189.5,216.2 194.0,200.5 214.1,205.0 211.9,221.8 207.4,221.8"/>
<polygon fill="#f61818" points="204.0,225.2 207.4,216.2 218.6,216.2 225.3,225.2 225.3,236.4 218.6,240.9 211.9,238.6 207.4,238.6 204.0,234.2"/>
<polygon fill="#b31313" points="216.0,217.0 222.0,219.0 226.0,226.0 226.0,236.0 221.0,238.0"/>
<polygon fill="#f79800" points="215.3,229.7 220.9,229.7 222.0,245.3 218.6,247.6 215.3,243.1"/>
<polygon fill="#916c00" points="220.9,227.4 229.8,231.9 238.8,240.9 239.9,245.3 229.8,245.3 224.2,243.1"/>
<polygon fill="#9fb90a" points="203.0,232.0 211.9,238.6 215.3,243.1 215.0,250.0 203.0,250.0 200.0,240.0"/>
<polygon fill="#748b00" points="229.9,245.0 238.8,245.0 241.1,258.5 250.0,261.8 259.0,267.4 265.8,276.4 277.0,277.5 281.5,280.9 281.5,289.9 274.7,303.3 274.7,312.3 273.6,330.2 272.5,339.2 265.8,343.7 265.1,369.2 258.3,373.6 251.6,380.4 249.3,367.0 241.0,356.0 230.0,345.0 214.0,320.0 200.0,290.0 196.0,270.0 205.0,248.0 215.0,244.0"/>
<polygon fill="#85a000" points="189.5,255.0 195.1,254.0 195.1,276.4 189.5,276.4"/>
<polygon fill="#2db732" points="211.2,340.0 218.6,331.4 223.5,330.0 227.6,340.0 233.8,350.6 240.0,361.0 246.0,371.0 252.3,380.4 258.5,375.0 264.7,371.0 266.0,385.0 274.0,402.8 285.2,414.0 296.5,424.1 289.7,435.3 285.2,436.5 267.3,427.5 251.6,414.0 235.9,396.1 224.7,375.9 215.7,355.7"/>
<polygon fill="#35d546" points="211.2,340.0 215.7,355.7 224.7,375.9 235.9,396.1 251.6,414.0 262.0,422.0 264.0,419.0 254.0,410.0 240.0,393.0 229.0,374.0 220.0,354.0 215.5,339.0"/>
<polygon fill="#30c135" points="270.0,425.0 285.0,414.0 296.5,424.1 289.7,435.3 285.2,436.5 274.0,431.0"/>
<polygon fill="#ffe61b" points="284.0,420.0 292.0,414.0 295.0,416.0 287.0,426.0"/>
<polygon fill="#afdf1b" points="195.1,258.5 200.7,254.0 209.7,252.9 209.7,245.0 229.9,245.0 228.7,254.0 226.5,260.7 229.9,266.3 236.6,264.1 243.3,267.4 252.3,271.9 263.5,277.5 269.1,280.9 270.2,287.6 265.8,301.1 261.3,310.1 261.3,319.0 262.4,330.2 261.3,339.2 256.8,343.7 252.3,348.5 249.2,356.7 251.3,371.0 252.3,380.4 246.0,371.0 240.0,361.0 233.8,350.6 227.6,340.0 221.0,332.0 214.2,319.0 209.7,310.1 205.2,298.8 200.7,298.8 196.2,289.9 195.1,271.9"/>
<polygon fill="#ff2525" points="208.0,305.0 211.0,305.0 222.0,330.0 223.0,334.0 219.0,333.0"/>
<polygon fill="#186d21" points="386.0,86.0 393.0,84.0 393.0,68.0 405.0,67.0 405.0,62.0 419.0,62.0 421.0,58.0 445.0,58.0 445.0,61.0 460.0,66.5 478.7,72.8 497.4,81.2 516.0,92.4 528.2,104.5 524.0,110.0 522.0,120.0 500.0,120.0 490.0,117.0 470.0,117.0 457.0,116.5 454.3,113.8 450.3,126.6 442.4,132.5 436.5,131.6 435.5,123.7 426.6,120.7 421.7,123.7 422.7,116.7 412.8,117.7 408.8,125.6 408.8,103.0 397.5,103.1 387.4,103.1"/>
<polygon fill="#0b3650" points="393.0,67.5 406.0,67.0 406.9,70.0 406.9,83.0 401.0,84.5 398.6,81.8 396.4,77.3 393.0,72.8"/>
<polygon fill="#866400" points="375.5,86.5 385.2,85.7 385.7,100.0 376.5,100.5"/>
<polygon fill="#f4bd00" points="376.0,83.0 384.5,82.5 384.8,86.5 376.0,87.0"/>
<polygon fill="#759700" points="381.5,72.0 387.0,70.5 392.0,71.5 393.0,75.0 396.0,77.0 399.5,80.5 402.0,84.0 399.0,86.0 392.0,87.5 386.0,88.0 382.0,86.0 381.0,80.0"/>
<polygon fill="#b7de23" points="389.0,75.0 393.0,75.0 396.0,77.0 399.5,80.5 402.0,84.0 399.0,86.0 392.0,87.5 388.0,86.0 388.0,80.0"/>
<polygon fill="#b20f0f" points="405.4,62.0 418.7,61.9 417.5,66.0 410.0,68.0 406.0,67.9"/>
<polygon fill="#ffcb00" points="406.9,67.9 418.7,67.5 418.7,75.8 406.9,75.8"/>
<polygon fill="#8d6900" points="406.9,74.8 415.7,74.8 415.7,84.6 406.9,84.6"/>
<polygon fill="#c6ff3d" points="419.0,58.0 436.0,58.0 432.5,62.9 431.0,68.0 432.5,75.8 425.0,75.8 421.2,70.0 419.5,62.0"/>
<polygon fill="#87b000" points="429.6,63.0 435.5,62.9 435.5,68.8 430.5,68.8"/>
<polygon fill="#b36000" points="436.0,58.0 445.0,60.0 452.0,63.0 458.2,66.0 458.2,69.8 446.4,69.0 440.0,64.0 435.5,62.9"/>
<polygon fill="#ffe200" points="435.5,62.9 440.0,64.0 446.4,69.0 446.4,71.8 436.5,71.8"/>
<polygon fill="#ffa700" points="445.0,60.0 460.0,66.5 478.7,72.8 497.4,81.2 516.0,92.4 528.2,104.5 524.3,109.9 520.0,112.7 497.3,112.0 489.4,102.8 489.4,90.0 475.0,88.0 465.0,82.5 454.3,80.7 454.3,71.8 458.2,69.8 458.2,66.0 452.0,63.0"/>
<polygon fill="#ff9900" points="480.0,75.0 497.4,81.2 516.0,92.4 528.2,104.5 524.3,109.9 520.0,112.7 510.0,110.0 505.0,100.0 495.0,92.0 485.0,85.0"/>
<polygon fill="#80a700" points="435.5,71.8 454.3,71.8 454.3,78.7 435.5,78.7"/>
<polygon fill="#b4e630" points="434.5,78.7 452.0,78.7 454.3,82.0 454.3,89.6 434.5,89.6"/>
<polygon fill="#ffd100" points="454.3,80.7 465.0,82.5 475.0,88.0 489.4,90.0 489.4,102.8 476.5,102.8 455.8,96.9 455.2,89.6"/>
<polygon fill="#29c841" points="414.8,76.7 432.5,76.7 434.5,79.0 434.5,88.0 427.0,90.6 415.7,90.6 415.0,84.6"/>
<polygon fill="#28c03e" points="387.4,88.5 395.0,84.5 403.0,84.0 407.6,85.2 414.8,86.0 419.7,88.6 417.7,94.0 420.0,99.0 419.7,102.4 413.2,103.1 407.6,100.9 400.9,100.9 397.5,99.7 396.4,95.3 393.0,91.9"/>
<polygon fill="#16651e" points="386.3,90.8 396.4,95.3 397.5,103.1 387.4,103.1"/>
<polygon fill="#17681f" points="415.7,90.6 426.6,90.6 426.6,95.5 417.0,95.5"/>
<polygon fill="#2aca41" points="432.5,87.6 443.4,87.6 455.2,89.6 455.2,95.5 432.5,93.5"/>
<polygon fill="#28c33f" points="419.7,93.5 428.0,93.5 433.5,98.6 439.1,103.1 444.7,106.5 449.2,111.0 450.3,114.8 446.4,112.8 438.5,107.9 430.6,103.9 424.6,100.9 420.0,99.0"/>
<polygon fill="#27c03e" points="425.0,103.0 428.0,103.0 428.5,108.0 427.5,114.5 425.0,114.0"/>
<polygon fill="#28c13e" points="438.5,116.7 446.4,116.7 446.0,119.7 439.0,119.7"/>
<polygon fill="#b1de23" points="440.2,99.5 456.2,99.5 458.1,103.1 457.0,108.7 451.4,106.5 442.4,103.1"/>
<polygon fill="#97bc23" points="451.4,103.1 458.1,105.3 459.3,112.1 455.9,114.3 452.5,109.8"/>
<polygon fill="#9f6800" points="455.8,96.9 479.5,96.9 479.5,101.9 455.8,101.9"/>
<polygon fill="#2ace42" points="459.8,100.9 476.5,100.9 476.5,107.8 459.8,107.8"/>
<polygon fill="#967000" points="476.5,102.8 489.4,102.8 489.4,116.7 476.5,116.7"/>
<polygon fill="#977100" points="484.4,108.8 497.3,108.8 497.3,115.7 484.4,115.7"/>
<polygon fill="#0b3751" points="469.6,115.7 484.4,115.7 484.4,118.6 469.6,118.6"/>
<polygon fill="#617500" points="374.0,111.0 376.2,116.0 395.0,118.7 399.9,115.8 407.8,108.8 408.8,109.0 408.8,128.6 400.9,129.6 395.0,130.6 380.0,133.0 372.0,132.0 371.9,125.0"/>
<polygon fill="#a0ca18" points="374.0,105.3 387.4,104.2 398.6,105.3 407.6,108.7 405.4,112.1 400.9,116.0 395.0,118.7 378.4,116.0 378.0,108.0"/>
<polygon fill="#f5bc00" points="371.9,109.0 378.0,108.0 378.4,116.0 377.0,125.0 372.0,124.0"/>
<polygon fill="#955300" points="451.9,123.8 457.8,119.9 469.7,124.8 479.6,129.8 487.5,131.7 500.3,129.8 500.3,134.7 496.4,139.6 486.5,138.6 477.6,135.7 467.7,134.7 459.8,135.7 453.9,131.7"/>
<polygon fill="#864600" points="455.0,125.0 460.0,123.0 466.0,127.0 464.0,131.0 458.0,130.0"/>
<polygon fill="#667411" points="450.9,113.0 457.8,113.0 459.0,117.9 457.8,119.9 451.9,123.8 450.5,126.0"/>
<polygon fill="#f18b00" points="456.5,116.2 469.7,116.2 484.5,116.9 500.3,118.9 510.2,120.9 514.1,125.8 509.2,129.8 500.3,128.8 492.4,129.8 486.5,130.7 479.6,128.8 474.6,126.8 469.7,123.8 462.8,121.9"/>
<polygon fill="#995200" points="460.0,120.0 466.0,119.0 472.0,123.0 470.0,127.0 464.0,125.0"/>
<polygon fill="#0b3751" points="468.7,115.4 486.5,115.4 486.5,117.0 468.7,117.2"/>
<polygon fill="#9f8000" points="446.4,277.9 448.2,290.0 447.3,294.2 444.7,303.5 442.4,312.4 441.3,323.6 444.7,334.9 448.0,352.8 453.6,366.3 453.6,377.5 457.0,384.2 453.0,385.0 450.0,378.0 450.0,367.0 445.0,354.0 441.5,336.0 438.5,324.0 439.5,312.0 442.0,303.0 444.5,294.0 444.5,287.0"/>
<polygon fill="#e1ae00" points="372.0,137.0 380.0,134.0 393.0,132.0 410.0,130.5 423.7,131.0 430.5,131.0 432.7,136.8 447.3,134.6 452.3,137.5 464.1,141.4 469.7,136.8 478.7,135.7 484.0,144.5 495.0,143.6 501.6,148.1 508.3,152.6 519.5,168.3 526.3,179.5 533.0,190.8 539.7,196.4 538.3,200.0 556.3,200.0 554.0,215.7 567.5,213.5 568.6,226.9 563.0,240.4 554.0,253.8 547.3,265.0 545.1,280.8 542.8,289.7 545.1,298.7 540.6,303.2 538.9,304.0 537.8,315.9 527.7,324.9 516.5,336.1 512.0,349.6 507.5,363.0 498.5,372.0 485.1,378.6 471.6,383.1 457.0,384.2 453.6,377.5 453.6,366.3 448.0,352.8 444.7,334.9 441.3,323.6 442.4,312.4 444.7,303.5 447.3,294.2 448.2,290.0 446.4,277.9 443.6,270.4 438.0,261.0 435.1,257.3 434.2,246.1 428.6,240.5 419.3,239.5 413.6,234.9 404.3,235.8 397.3,237.1 389.5,239.4 380.5,241.1 372.6,242.7 369.3,241.6 362.5,237.1 355.8,232.6 351.3,228.2 348.0,223.7 341.2,219.2 337.9,216.9 335.0,211.3 335.6,205.7 333.9,201.2 336.2,194.5 336.7,190.0 340.4,187.3 338.1,176.1 346.0,173.8 348.2,175.0 353.8,167.1 358.3,163.7 362.8,159.3 369.5,157.0 376.3,151.4 371.8,142.4"/>
<polygon fill="#efba00" points="483.0,146.0 495.0,143.6 504.0,148.0 511.0,155.0 517.0,164.0 524.0,184.0 528.5,195.2 535.0,199.7 528.0,204.0 524.0,215.0 527.0,242.0 515.0,246.0 516.0,265.0 513.6,276.3 515.9,292.0 505.0,303.5 487.0,303.5 480.6,301.2 480.6,290.0 446.9,290.0 447.3,276.3 458.5,267.3 465.2,258.3 467.5,244.9 476.5,240.4 483.0,218.0 480.0,200.0 486.0,186.0 490.0,176.0"/>
<polygon fill="#e11c1c" points="371.8,142.4 378.5,136.8 392.0,135.7 394.2,142.4 385.2,144.7 376.3,151.4 369.5,157.0 362.8,159.3 358.3,163.7 353.8,167.1 348.2,175.0 346.0,173.8 351.6,164.9 360.6,157.0 367.3,150.3"/>
<polygon fill="#e98e00" points="393.5,132.3 410.0,131.0 422.6,130.1 424.9,135.7 428.2,146.9 435.0,164.9 437.2,169.3 424.9,175.0 414.8,182.8 409.9,176.1 394.2,162.6 375.1,161.5 374.0,157.0 376.3,151.4 385.2,144.7 394.2,142.4"/>
<polygon fill="#ea1d1d" points="423.7,131.2 430.5,131.2 431.5,135.5 429.6,140.4 430.6,146.0 428.2,146.9 424.9,135.7"/>
<polygon fill="#f9c600" points="483.6,145.9 494.9,143.6 503.8,148.1 510.6,154.9 517.3,163.8 517.3,175.1 490.4,176.2 487.7,160.4"/>
<polygon fill="#f7bf00" points="490.4,176.2 517.3,175.1 524.0,184.0 528.5,195.2 535.2,199.7 528.5,204.2 524.0,215.4 524.9,231.4 527.1,242.6 513.6,244.9 504.7,240.4 493.5,220.2 480.0,222.4 478.7,213.5 481.0,200.0 484.0,190.0 486.0,186.0"/>
<polygon fill="#9cc517" points="348.2,175.0 355.0,163.7 362.8,159.3 374.0,157.0 375.1,161.5 376.3,194.0 367.3,196.3 353.8,197.4 343.7,194.0 340.4,187.3 338.1,176.1 346.0,173.8"/>
<polygon fill="#26b83b" points="375.1,161.5 394.2,162.6 409.9,176.1 414.4,180.6 413.6,195.1 400.7,199.0 392.8,200.1 382.7,206.8 378.3,212.4 378.3,216.0 367.0,218.0 363.7,211.3 353.6,210.2 352.4,205.7 349.1,199.0 352.4,199.0 353.8,197.4 367.3,196.3 376.3,194.0"/>
<polygon fill="#a4cf18" points="414.8,182.8 424.9,175.0 437.2,169.3 451.8,168.2 455.1,176.1 456.3,178.3 451.8,200.8 449.5,205.2 436.1,206.4 420.4,204.1 413.6,205.2 406.9,206.4 400.2,200.8 413.6,195.1"/>
<polygon fill="#926d00" points="483.0,186.0 487.5,186.0 486.0,200.0 482.5,210.0 484.5,217.0 479.0,222.0 476.5,219.8 480.9,216.5 478.7,208.6 480.9,200.8 483.2,194.0"/>
<polygon fill="#e61717" points="456.3,176.1 478.7,185.0 484.3,186.2 483.2,194.0 480.9,200.8 478.7,208.6 480.9,216.5 476.5,219.8 469.7,223.2 457.4,228.8 454.0,218.7 449.5,205.2 451.8,200.8 455.1,182.8"/>
<polygon fill="#16651e" points="428.2,146.9 431.6,144.7 435.0,164.9 432.0,163.8 434.3,170.5 433.0,168.0"/>
<polygon fill="#176920" points="432.0,163.8 440.0,166.0 454.5,170.5 470.0,172.5 489.0,177.2 490.4,182.0 490.0,182.0 481.5,185.6 454.5,179.0 434.3,170.5"/>
<polygon fill="#28c33f" points="431.6,144.7 432.7,136.8 447.3,134.6 452.3,137.5 464.1,141.4 469.7,136.8 478.7,135.7 484.3,144.7 487.7,160.4 489.0,177.2 470.0,172.5 454.5,170.5 440.0,166.0 432.0,163.8 428.2,146.9 430.6,146.0"/>
<polygon fill="#9cc617" points="336.7,190.0 340.4,187.3 343.7,194.0 353.8,197.4 352.4,199.0 349.1,199.0 343.5,195.6 335.6,196.7"/>
<polygon fill="#f3ba00" points="335.6,196.7 343.5,195.6 349.1,199.0 352.4,205.7 351.3,209.1 344.6,206.8 336.7,205.7 333.9,201.2"/>
<polygon fill="#dccb92" points="336.0,206.0 345.0,207.5 349.0,210.0 346.0,211.5 337.0,210.0"/>
<polygon fill="#abce21" points="335.0,211.3 341.0,211.0 353.6,210.2 363.7,211.3 367.0,218.0 365.9,223.7 369.3,227.0 368.2,239.4 362.5,237.1 355.8,232.6 348.0,223.7 341.2,219.2 337.9,216.9"/>
<polygon fill="#e78400" points="350.2,222.5 355.8,221.4 357.5,227.0 353.6,229.3 350.2,225.9"/>
<polygon fill="#9ac711" points="378.3,212.4 382.7,206.8 392.8,200.1 400.7,199.0 406.3,204.6 410.0,210.0 411.4,212.0 410.0,215.8 401.8,215.8 392.8,216.9 388.3,215.8 379.4,218.0"/>
<polygon fill="#16631e" points="367.0,218.0 378.3,216.0 379.4,218.0 368.5,220.5"/>
<polygon fill="#ea8600" points="368.2,220.3 374.9,219.2 386.1,221.4 388.3,227.0 387.2,237.1 380.5,241.1 372.6,242.7 369.3,241.6 368.2,232.6"/>
<polygon fill="#eb8400" points="389.5,218.0 397.3,216.9 399.6,219.2 400.7,234.9 397.3,237.1 389.5,239.4 388.3,227.0"/>
<polygon fill="#21a933" points="400.7,218.0 404.1,218.0 405.2,234.9 402.9,235.5"/>
<polygon fill="#ed8500" points="405.2,214.7 411.4,212.0 411.4,222.4 413.6,233.6 410.0,236.0 406.3,235.0"/>
<polygon fill="#f08500" points="411.8,207.8 424.9,206.7 436.1,206.4 451.0,207.8 452.0,216.2 443.6,229.3 436.1,234.9 431.4,240.5 428.6,240.5 419.3,239.5 413.6,234.9 411.8,233.9 410.8,218.0"/>
<polygon fill="#f18600" points="452.0,216.2 454.8,227.4 458.5,240.5 466.0,246.1 458.5,251.7 441.7,251.7 436.1,246.1 431.4,240.5 436.1,234.9 443.6,229.3"/>
<polygon fill="#f79200" points="434.2,246.1 436.1,246.1 441.7,251.7 458.5,251.7 466.0,246.1 467.5,244.9 465.2,258.3 458.5,267.3 447.3,276.3 446.4,277.9 443.6,270.4 438.0,261.0 435.1,257.3"/>
<polygon fill="#27c437" points="456.3,231.4 469.7,222.4 476.5,219.8 480.0,222.4 493.5,220.2 504.7,240.4 500.0,236.0 476.5,240.4 467.5,244.9 460.8,247.1 457.4,242.6"/>
<polygon fill="#186c21" points="457.4,228.8 456.3,231.4 457.4,242.6 460.8,247.1 458.0,249.0 453.5,240.0 454.0,229.0"/>
<polygon fill="#f6c000" points="467.5,244.9 476.5,240.4 500.0,236.0 513.6,244.9 515.9,253.8 513.6,276.3 515.9,285.2 516.0,292.0 505.2,294.5 505.2,303.5 487.3,303.5 480.6,301.2 480.6,290.0 465.2,283.0 458.5,280.8 447.3,280.8 445.1,276.3 447.3,276.3 458.5,267.3 465.2,258.3"/>
<polygon fill="#f2b900" points="447.3,280.8 458.5,280.8 465.2,283.0 480.6,290.0 480.6,301.2 487.3,303.5 480.6,312.4 479.4,323.6 471.6,327.0 442.4,324.8 441.3,319.2 444.7,303.5 447.3,294.2"/>
<polygon fill="#1b7a25" points="525.0,204.0 531.6,203.0 529.7,205.7 527.0,211.0 524.0,220.0 525.0,229.0 530.0,238.0 536.0,243.0 545.4,243.5 545.4,246.5 534.0,247.0 527.0,242.0 521.0,234.0 519.5,224.0 521.0,211.0"/>
<polygon fill="#28cd38" points="531.6,204.5 540.6,202.2 547.3,209.0 551.8,215.7 563.0,217.9 566.4,229.2 556.3,238.1 547.3,242.6 536.1,243.7 529.3,240.4 524.9,231.4 522.6,224.7 527.1,211.2"/>
<polygon fill="#c5e51a" points="554.0,215.7 567.5,213.5 568.6,226.9 563.0,240.4 554.0,253.8 547.3,265.0 547.3,244.9 556.3,238.1 566.4,229.2"/>
<polygon fill="#92a800" points="538.3,244.9 547.3,244.9 547.3,265.0 538.3,265.0"/>
<polygon fill="#2cdd3e" points="519.3,245.0 529.7,245.0 531.0,255.4 521.9,260.7 519.3,252.8"/>
<polygon fill="#ff2020" points="521.9,258.0 531.0,253.0 536.3,246.3 538.9,246.3 538.9,267.2 535.0,267.2 521.9,262.0"/>
<polygon fill="#1c8127" points="511.5,245.0 518.5,245.0 517.0,260.0 516.6,266.0 517.0,280.0 519.3,294.7 524.5,302.0 525.5,321.0 518.5,321.0 515.5,306.0 511.5,292.0 510.5,275.0 511.0,260.0"/>
<polygon fill="#2fde43" points="515.9,265.0 524.9,262.8 533.8,267.3 540.6,271.8 545.1,280.8 542.8,289.7 545.1,298.7 540.6,303.2 529.3,305.4 524.9,300.9 518.1,294.2 515.9,285.2 513.6,276.3"/>
<polygon fill="#f78c00" points="487.3,303.5 505.2,303.5 505.2,294.5 514.2,292.2 516.5,301.2 512.0,310.2 505.2,314.7 496.3,318.0 487.3,324.8 479.4,323.6 480.6,312.4"/>
<polygon fill="#ffd400" points="453.6,366.3 464.9,359.5 469.4,358.5 478.3,356.3 491.8,349.6 503.0,342.8 505.3,342.8 507.5,352.0 507.5,363.0 498.5,372.0 485.1,378.6 471.6,383.1 457.0,384.2 453.6,377.5"/>
<polygon fill="#ffd400" points="509.8,306.9 525.5,304.7 536.7,304.7 538.9,304.0 537.8,315.9 527.7,324.9 516.5,336.1 512.0,349.6 507.5,352.0 505.3,342.8 503.0,342.8 512.0,331.6 514.3,320.4"/>
<polygon fill="#27aa30" points="512.0,280.0 521.0,280.0 523.2,298.0 527.7,309.2 525.5,324.9 521.0,322.6 516.5,311.4 514.3,298.0"/>
<polygon fill="#f78e00" points="442.4,324.8 471.6,327.0 468.2,341.6 467.1,355.1 462.6,364.0 455.9,364.0 453.6,357.3 449.2,348.3 444.7,334.9"/>
<polygon fill="#ff1616" points="471.6,327.0 487.3,327.0 494.0,337.1 491.8,341.6 482.8,346.1 472.7,353.9 468.2,346.1 470.5,334.9"/>
<polygon fill="#bababa" points="487.3,327.0 496.3,320.3 505.2,318.0 507.5,325.9 505.2,332.6 498.5,337.1 494.0,337.1"/>
<polygon fill="#c8a000" points="471.6,354.1 487.3,345.1 500.8,336.1 509.8,322.6 514.3,320.4 512.0,331.6 503.0,342.8 491.8,349.6 478.3,356.3 469.4,358.5"/>
<polygon fill="#42d942" points="487.3,365.3 494.1,364.2 495.2,369.8 488.4,372.0"/>
<polygon fill="#2cc136" points="499.7,356.3 506.4,357.4 507.5,363.0 501.9,364.2"/>
<polygon fill="#e27800" points="539.6,304.7 549.3,302.4 557.5,305.4 556.8,317.4 552.3,324.8 547.8,336.8 544.8,345.8 538.9,350.3 534.4,349.5 527.7,344.3 528.4,336.8 532.9,329.3 535.9,321.9 540.4,311.4"/>
<polygon fill="#ff9800" points="543.0,308.5 556.8,306.2 556.0,316.0 550.8,324.8 546.3,338.0 543.4,345.8 538.9,349.5 535.1,348.8 535.9,339.8 540.4,329.3 543.4,320.4 544.9,312.9"/>
<polygon fill="#42f042" points="539.6,304.7 549.3,302.4 557.5,305.4 552.0,308.0 543.0,309.0"/>
<polygon fill="#ff9600" points="557.5,328.0 566.0,332.0 566.0,334.0 557.0,330.0"/>
<polygon fill="#ff1b1b" points="553.0,331.5 558.0,334.0 557.0,335.0 553.0,333.0"/>
<polygon fill="#cbded5" points="383.3,447.7 395.2,445.3 428.8,444.7 460.4,438.8 470.0,435.0 440.0,447.0 405.0,451.5 385.0,450.0"/>
<polygon fill="#6a7a10" points="340.5,152.0 344.0,150.0 351.0,161.0 348.0,163.0"/>
<polygon fill="#6a7a10" points="348.0,151.0 352.0,149.5 357.5,160.0 354.0,162.0"/>
<polygon fill="#d3c3a2" points="312.0,198.0 315.0,197.5 315.5,200.0 312.0,200.5"/>
<polygon fill="#c31010" points="315.0,202.0 318.0,201.5 318.5,204.0 315.0,204.5"/>
<polygon fill="#1b7a25" points="495.3,104.8 518.7,106.2 524.3,111.8 520.6,117.4 500.0,119.3 495.3,112.0"/>
<polygon fill="#21972e" points="524.0,108.0 538.8,98.8 558.0,119.0 571.0,126.7 580.0,140.0 587.5,159.4 588.0,163.0 582.0,164.0 575.7,163.1 567.3,153.8 563.6,139.8 553.8,129.2 548.6,124.9 533.6,115.5"/>
<polygon fill="#30dd3d" points="557.8,124.4 566.0,132.0 570.2,141.0 570.2,149.1 565.0,146.0 560.0,138.0"/>
<polygon fill="#ff9400" points="500.0,117.4 511.2,119.3 518.7,130.5 526.2,136.1 533.6,145.4 528.0,151.0 518.7,143.6 507.5,136.1 500.0,134.2"/>
<polygon fill="#7a9d00" points="509.3,117.4 516.8,115.5 524.3,123.0 537.4,141.7 548.6,154.8 561.7,166.0 556.1,169.7 543.0,158.5 531.8,147.3 520.6,134.2 511.2,124.9"/>
<polygon fill="#b5e51a" points="516.0,122.0 535.0,118.0 551.0,127.0 562.0,134.0 567.0,148.0 570.0,160.0 570.0,172.0 562.0,168.0 555.0,157.0 544.0,148.0 531.0,143.0 522.0,135.0"/>
<polygon fill="#ffc800" points="508.3,143.6 517.3,141.4 530.8,143.6 544.2,148.1 555.4,157.1 562.2,168.3 566.6,177.3 562.2,186.3 555.4,193.0 539.7,196.4 533.0,190.8 526.3,179.5 519.5,168.3 508.3,152.6"/>
<polygon fill="#ffc500" points="505.0,132.4 517.3,130.2 526.3,136.9 524.0,145.9 517.3,141.4 508.3,143.6"/>
<polygon fill="#a4f652" points="507.0,137.0 512.0,136.0 513.0,143.0 509.0,147.0 506.0,142.0"/>
<polygon fill="#197122" points="491.4,138.0 500.0,128.0 503.0,129.0 495.0,140.0"/>
<polygon fill="#197222" points="498.0,140.0 505.0,131.0 507.5,132.0 501.0,141.0"/>
<polygon fill="#a98200" points="501.6,148.1 508.3,152.6 519.5,168.3 526.3,179.5 533.0,190.8 539.7,196.4 535.2,199.7 528.5,195.2 521.8,181.8 515.0,170.6 506.1,157.1"/>
<polygon fill="#ff1b1b" points="537.5,199.7 548.7,195.2 555.4,193.0 558.0,197.0 561.2,205.7 550.7,208.3 547.3,209.0 540.6,202.2"/>
<polygon fill="#ff9900" points="555.8,188.1 566.1,182.0 568.1,192.2 562.0,198.4"/>
<polygon fill="#ffe600" points="562.0,155.2 576.3,157.3 580.5,171.7 568.1,173.7 566.0,165.0"/>
<polygon fill="#fff000" points="563.0,163.0 572.0,160.0 578.3,165.7 586.0,175.0 591.0,190.0 594.0,215.0 586.0,195.0 578.3,176.0 569.2,177.5 563.0,172.0"/>
<polygon fill="#b7cb00" points="578.3,165.7 584.0,162.0 589.0,170.0 593.0,185.0 596.0,205.0 596.0,225.0 594.0,215.0 591.0,190.0"/>
<polygon fill="#ed1414" points="569.2,177.5 578.3,174.9 586.2,194.5 592.7,212.9 594.1,226.0 592.7,231.2 588.8,228.6 584.9,212.9 578.3,194.5"/>
<polygon fill="#23a030" points="588.8,226.0 608.5,222.8 609.8,236.5 591.4,239.1"/>
<polygon fill="#23a030" points="590.1,240.4 607.2,239.1 605.8,260.0 604.5,273.1 599.3,278.4 590.1,281.0"/>
<polygon fill="#23a030" points="589.0,279.0 599.0,280.0 596.5,287.6 589.0,287.6"/>
<g clip-path="url(#landclip)" style="mix-blend-mode:multiply">
<rect x="0" y="0" width="810" height="535" fill="#999999"/>
<ellipse cx="398.30" cy="258.60" rx="153.89" ry="192.40" transform="rotate(-119.98 398.30 258.60)" fill="#9c9c9c"/>
<polygon points="744.8,58.7 51.8,458.5 -148.1,112.0 544.9,-287.8" fill="#9c9c9c"/>
<ellipse cx="395.41" cy="253.60" rx="153.70" ry="192.16" transform="rotate(-119.98 395.41 253.60)" fill="#a1a1a1"/>
<polygon points="736.8,44.8 43.8,444.6 -156.1,98.1 536.9,-301.6" fill="#a1a1a1"/>
<ellipse cx="392.53" cy="248.60" rx="153.12" ry="191.44" transform="rotate(-119.98 392.53 248.60)" fill="#a6a6a6"/>
<polygon points="728.8,30.9 35.8,430.7 -164.1,84.2 528.9,-315.5" fill="#a6a6a6"/>
<ellipse cx="389.64" cy="243.60" rx="152.15" ry="190.22" transform="rotate(-119.98 389.64 243.60)" fill="#ababab"/>
<polygon points="720.7,17.1 27.8,416.8 -172.1,70.4 520.9,-329.4" fill="#ababab"/>
<ellipse cx="386.76" cy="238.59" rx="150.78" ry="188.51" transform="rotate(-119.98 386.76 238.59)" fill="#b0b0b0"/>
<polygon points="712.7,3.2 19.8,403.0 -180.1,56.5 512.8,-343.3" fill="#b0b0b0"/>
<ellipse cx="383.87" cy="233.59" rx="149.00" ry="186.29" transform="rotate(-119.98 383.87 233.59)" fill="#b5b5b5"/>
<polygon points="704.7,-10.7 11.8,389.1 -188.1,42.6 504.8,-357.2" fill="#b5b5b5"/>
<ellipse cx="380.99" cy="228.59" rx="146.80" ry="183.54" transform="rotate(-119.98 380.99 228.59)" fill="#bababa"/>
<polygon points="696.7,-24.6 3.8,375.2 -196.1,28.7 496.8,-371.1" fill="#bababa"/>
<ellipse cx="378.10" cy="223.59" rx="144.16" ry="180.23" transform="rotate(-119.98 378.10 223.59)" fill="#bfbfbf"/>
<polygon points="688.7,-38.5 -4.2,361.3 -204.1,14.8 488.8,-384.9" fill="#bfbfbf"/>
<ellipse cx="375.22" cy="218.59" rx="141.04" ry="176.34" transform="rotate(-119.98 375.22 218.59)" fill="#c4c4c4"/>
<polygon points="680.7,-52.4 -12.2,347.4 -212.1,1.0 480.8,-398.8" fill="#c4c4c4"/>
<ellipse cx="372.33" cy="213.59" rx="137.43" ry="171.82" transform="rotate(-119.98 372.33 213.59)" fill="#c9c9c9"/>
<polygon points="672.7,-66.2 -20.3,333.5 -220.1,-12.9 472.8,-412.7" fill="#c9c9c9"/>
<ellipse cx="369.45" cy="208.59" rx="133.27" ry="166.62" transform="rotate(-119.98 369.45 208.59)" fill="#cfcfcf"/>
<polygon points="664.7,-80.1 -28.3,319.7 -228.2,-26.8 464.8,-426.6" fill="#cfcfcf"/>
<ellipse cx="366.56" cy="203.58" rx="128.52" ry="160.69" transform="rotate(-119.98 366.56 203.58)" fill="#d4d4d4"/>
<polygon points="656.7,-94.0 -36.3,305.8 -236.2,-40.7 456.8,-440.5" fill="#d4d4d4"/>
<ellipse cx="363.67" cy="198.58" rx="123.11" ry="153.92" transform="rotate(-119.98 363.67 198.58)" fill="#d9d9d9"/>
<polygon points="648.7,-107.9 -44.3,291.9 -244.2,-54.6 448.8,-454.4" fill="#d9d9d9"/>
<ellipse cx="360.79" cy="193.58" rx="116.95" ry="146.21" transform="rotate(-119.98 360.79 193.58)" fill="#dedede"/>
<ellipse cx="357.90" cy="188.58" rx="109.90" ry="137.40" transform="rotate(-119.98 357.90 188.58)" fill="#e3e3e3"/>
<ellipse cx="355.02" cy="183.58" rx="101.79" ry="127.26" transform="rotate(-119.98 355.02 183.58)" fill="#e8e8e8"/>
<ellipse cx="352.13" cy="178.58" rx="92.33" ry="115.44" transform="rotate(-119.98 352.13 178.58)" fill="#ededed"/>
<ellipse cx="349.25" cy="173.58" rx="81.07" ry="101.35" transform="rotate(-119.98 349.25 173.58)" fill="#f2f2f2"/>
<ellipse cx="346.36" cy="168.57" rx="67.08" ry="83.87" transform="rotate(-119.98 346.36 168.57)" fill="#f7f7f7"/>
<ellipse cx="343.48" cy="163.57" rx="48.05" ry="60.08" transform="rotate(-119.98 343.48 163.57)" fill="#fcfcfc"/>
</g>
<g fill="none" stroke="#f6f6f2" stroke-width="0.9" stroke-linejoin="round">
<polyline points="204.0,225.2 207.4,216.2 218.6,216.2 220.9,219.3"/>
<polyline points="223.4,222.6 225.3,225.2 225.3,226.0"/>
<polyline points="223.6,237.5 221.0,239.3"/>
<polyline points="215.9,240.0 211.9,238.6 210.9,238.6"/>
<polyline points="204.0,233.5 204.0,225.2"/>
<polyline points="215.3,229.7 220.9,229.7 222.0,245.1"/>
<polyline points="216.5,244.7 215.3,243.1 215.3,229.7"/>
<polyline points="195.1,258.5 200.7,254.0 209.7,252.9 209.7,245.0 229.9,245.0 228.7,254.0 226.5,260.7 229.9,266.3 236.6,264.1 243.3,267.4 252.3,271.9 263.5,277.5 269.1,280.9 270.2,287.6 265.8,301.1 261.3,310.1 261.3,319.0 262.4,330.2 261.3,339.2 256.8,343.7 252.3,348.5 249.2,356.7 251.3,371.0 252.3,380.4 246.0,371.0 240.0,361.0 233.8,350.6 227.6,340.0 221.9,333.1"/>
<polyline points="214.0,318.5 209.7,310.1 205.2,298.8 200.7,298.8 196.2,289.9 195.1,271.9 195.1,258.5"/>
<polyline points="381.5,72.0 387.0,70.5 392.0,71.5 393.0,75.0 396.0,77.0 399.5,80.5 402.0,84.0 400.9,84.7"/>
<polyline points="390.3,87.6 386.0,88.0 382.0,86.0 381.0,80.0 381.5,72.0"/>
<polyline points="389.0,75.0 393.0,75.0 396.0,77.0 399.5,80.5 402.0,84.0 400.9,84.7"/>
<polyline points="391.2,87.2 388.0,86.0 388.0,80.0 389.0,75.0"/>
<polyline points="406.9,67.9 418.7,67.5 418.7,75.8 415.1,75.8"/>
<polyline points="407.5,75.8 406.9,75.8 406.9,67.9"/>
<polyline points="419.0,58.0 436.0,58.0 432.5,62.9 432.3,63.6"/>
<polyline points="431.0,68.2 432.5,75.8 425.0,75.8 421.2,70.0 419.5,62.0 419.0,58.0"/>
<polyline points="429.6,63.0 435.5,62.9 435.5,68.8 430.5,68.8 429.6,63.0"/>
<polyline points="435.5,62.9 440.0,64.0 446.4,69.0 446.4,71.8 436.5,71.8 435.5,62.9"/>
<polyline points="435.5,71.8 454.3,71.8 454.3,78.7 435.5,78.7 435.5,71.8"/>
<polyline points="434.5,78.7 452.0,78.7 454.3,82.0 454.3,89.6 451.6,89.6"/>
<polyline points="434.5,88.2 434.5,78.7"/>
<polyline points="454.3,80.7 465.0,82.5 475.0,88.0 489.4,90.0 489.4,102.8 476.5,102.8 475.9,102.6"/>
<polyline points="471.9,101.5 471.2,101.3"/>
<polyline points="457.9,97.5 455.8,96.9 455.2,89.6 454.3,80.7"/>
<polyline points="414.8,76.7 432.5,76.7 434.5,79.0 434.5,88.0 433.9,88.2"/>
<polyline points="433.1,88.5 427.0,90.6 418.3,90.6"/>
<polyline points="415.3,86.9 415.0,84.6 414.8,76.7"/>
<polyline points="387.4,88.5 395.0,84.5 403.0,84.0 407.6,85.2 414.8,86.0 419.7,88.6 418.7,91.2"/>
<polyline points="418.1,94.9 420.0,99.0 419.7,102.4 413.2,103.1 407.6,100.9 400.9,100.9 397.5,99.7 396.4,95.3 393.0,91.9 387.4,88.5"/>
<polyline points="432.5,87.6 443.4,87.6 455.2,89.6 455.2,95.5 432.5,93.5 432.5,87.6"/>
<polyline points="419.7,93.5 428.0,93.5 433.5,98.6 439.1,103.1 444.7,106.5 449.2,111.0 450.3,114.8 446.4,112.8 438.5,107.9 430.6,103.9 424.6,100.9 420.0,99.0 419.7,93.5"/>
<polyline points="425.0,103.0 428.0,103.0 428.5,108.0 427.5,114.5 425.0,114.0 425.0,103.0"/>
<polyline points="438.5,116.7 446.4,116.7 446.0,119.7 439.0,119.7 438.5,116.7"/>
<polyline points="440.2,99.5 456.2,99.5 456.4,99.9"/>
<polyline points="457.2,101.3 458.1,103.1 457.6,105.8"/>
<polyline points="452.6,107.0 451.4,106.5 442.4,103.1 440.2,99.5"/>
<polyline points="451.4,103.1 458.1,105.3 459.3,112.1 457.0,113.6"/>
<polyline points="455.4,113.6 452.5,109.8 451.4,103.1"/>
<polyline points="459.8,100.9 476.5,100.9 476.5,107.8 459.8,107.8 459.8,100.9"/>
<polyline points="374.0,105.3 387.4,104.2 398.6,105.3 407.6,108.7 405.4,112.1 400.9,116.0 395.0,118.7 378.4,116.0 378.0,108.0 374.0,105.3"/>
<polyline points="371.9,109.0 378.0,108.0 378.4,116.0 377.0,125.0 372.0,124.0 371.9,109.0"/>
<polyline points="456.5,116.2 469.3,116.2"/>
<polyline points="476.3,116.5 484.5,116.9 500.3,118.9 500.6,119.0"/>
<polyline points="500.1,128.8 492.4,129.8 486.5,130.7 479.6,128.8 474.6,126.8 470.6,124.4"/>
<polyline points="461.2,120.4 456.5,116.2"/>
<polyline points="371.8,142.4 378.5,136.8 392.0,135.7 394.2,142.4 385.2,144.7 376.3,151.4 369.5,157.0 362.8,159.3 361.1,160.9"/>
<polyline points="352.8,168.5 348.2,175.0 346.0,173.8 351.6,164.9 360.6,157.0 367.3,150.3 371.8,142.4"/>
<polyline points="393.5,132.3 410.0,131.0 422.6,130.1 424.9,135.7 428.2,146.9 429.7,150.9"/>
<polyline points="434.6,163.9 435.0,164.9 435.2,165.3"/>
<polyline points="435.2,170.2 424.9,175.0 414.8,182.8 413.8,181.4"/>
<polyline points="412.2,179.3 409.9,176.1 394.2,162.6 375.1,161.5 374.0,157.0 376.3,151.4 385.2,144.7 394.2,142.4 393.5,132.3"/>
<polyline points="423.7,131.2 430.5,131.2 431.5,135.5 429.6,140.4 430.6,146.0 428.2,146.9 424.9,135.7 423.7,131.2"/>
<polyline points="483.9,145.8 494.9,143.6 503.8,148.1 510.6,154.9 512.1,156.9"/>
<polyline points="517.3,164.2 517.3,166.2"/>
<polyline points="517.3,173.2 517.3,175.1 490.4,176.2 487.7,160.4 485.1,151.1"/>
<polyline points="490.4,176.2 517.3,175.1 522.7,182.3"/>
<polyline points="525.8,188.4 528.5,195.2 535.2,199.7 528.7,204.0"/>
<polyline points="524.1,217.7 524.3,221.4"/>
<polyline points="524.8,229.2 524.8,229.9"/>
<polyline points="526.7,240.6 527.1,242.6 513.6,244.9 508.8,242.5"/>
<polyline points="504.2,239.4 493.5,220.2 480.0,222.4 479.7,220.5"/>
<polyline points="479.4,218.4 479.2,217.0"/>
<polyline points="479.0,211.8 479.5,209.1"/>
<polyline points="479.9,206.7 481.0,200.0 483.7,190.9"/>
<polyline points="485.7,186.6 486.0,186.0 487.6,182.3"/>
<polyline points="489.0,179.3 490.4,176.2"/>
<polyline points="348.2,175.0 355.0,163.7 362.8,159.3 374.0,157.0 375.1,161.5 376.3,194.0 367.3,196.3 353.8,197.4 343.7,194.0 340.4,187.3 338.1,176.1 346.0,173.8 348.2,175.0"/>
<polyline points="375.1,161.5 394.2,162.6 409.9,176.1 414.4,180.6 413.6,195.1 400.7,199.0 392.8,200.1 382.7,206.8 378.3,212.4 378.3,216.0 367.0,218.0 363.7,211.3 353.6,210.2 352.4,205.7 349.1,199.0 352.4,199.0 353.8,197.4 367.3,196.3 376.3,194.0 375.1,161.5"/>
<polyline points="414.8,182.8 424.9,175.0 435.2,170.2"/>
<polyline points="446.4,168.6 449.6,168.4"/>
<polyline points="452.2,169.2 452.8,170.6"/>
<polyline points="456.2,178.8 451.8,200.8 449.5,205.2 436.1,206.4 420.4,204.1 413.6,205.2 406.9,206.4 406.7,206.2"/>
<polyline points="401.2,200.4 413.6,195.1 414.8,182.8"/>
<polyline points="474.1,183.2 478.7,185.0 484.3,186.2 483.2,194.0 480.9,200.8 478.7,208.6 480.9,216.5 476.5,219.8 471.0,222.5"/>
<polyline points="469.3,223.4 457.4,228.8 454.0,218.7 449.5,205.2 451.8,200.8 455.1,182.8 455.8,178.7"/>
<polyline points="431.6,144.7 432.7,136.8 447.3,134.6 452.3,137.5 464.1,141.4 469.7,136.8 478.7,135.7 484.3,144.7 487.7,160.4 489.0,177.2 470.0,172.5 454.5,170.5 440.0,166.0 432.0,163.8 428.2,146.9 430.6,146.0 431.6,144.7"/>
<polyline points="335.6,196.7 343.5,195.6 349.1,199.0 352.4,205.7 351.3,209.1 344.6,206.8 336.7,205.7 333.9,201.2 335.6,196.7"/>
<polyline points="335.0,211.3 341.0,211.0 353.6,210.2 363.7,211.3 367.0,218.0 365.9,223.7 368.8,226.5"/>
<polyline points="368.8,232.6 368.2,239.4 362.5,237.1 355.8,232.6 348.0,223.7 341.2,219.2 337.9,216.9 335.0,211.3"/>
<polyline points="350.2,222.5 355.8,221.4 357.5,227.0 353.6,229.3 350.2,225.9 350.2,222.5"/>
<polyline points="378.3,212.4 382.7,206.8 392.8,200.1 400.7,199.0 406.3,204.6 410.0,210.0 411.4,212.0 410.8,213.6"/>
<polyline points="405.9,215.8 401.8,215.8 392.8,216.9 388.3,215.8 379.4,218.0 378.3,212.4"/>
<polyline points="368.2,220.3 374.9,219.2 386.1,221.4 388.3,227.0 387.2,237.1 380.5,241.1 372.6,242.7 369.3,241.6 368.2,232.6 368.2,220.3"/>
<polyline points="389.5,218.0 397.3,216.9 399.6,219.2 400.7,234.9 397.3,237.1 389.5,239.4 388.3,227.0 389.5,218.0"/>
<polyline points="400.7,218.0 404.1,218.0 405.2,234.9 402.9,235.5 400.7,218.0"/>
<polyline points="405.2,214.7 411.4,212.0 411.4,222.4 411.8,224.5"/>
<polyline points="413.1,233.9 410.0,236.0 406.3,235.0 405.2,214.7"/>
<polyline points="411.8,207.8 424.9,206.7 436.1,206.4 451.0,207.8 452.0,216.2 443.6,229.3 436.1,234.9 431.4,240.5 428.6,240.5 419.3,239.5 413.6,234.9 411.8,233.9 410.8,218.0 411.8,207.8"/>
<polyline points="452.0,216.2 454.8,227.4 455.4,229.5"/>
<polyline points="455.8,231.0 457.4,236.7"/>
<polyline points="464.8,245.2 466.0,246.1 458.5,251.7 441.7,251.7 436.1,246.1 431.4,240.5 436.1,234.9 443.6,229.3 452.0,216.2"/>
<polyline points="434.2,246.1 436.1,246.1 441.7,251.7 458.5,251.7 466.0,246.1 467.5,244.9 465.2,258.3 458.5,267.3 447.3,276.3 447.0,276.9"/>
<polyline points="446.5,277.8 446.4,277.9 443.6,270.4 438.0,261.0 435.1,257.3 434.2,246.1"/>
<polyline points="456.3,231.4 469.7,222.4 476.5,219.8 480.0,222.4 493.5,220.2 504.2,239.4"/>
<polyline points="502.5,238.4 500.0,236.0 476.5,240.4 467.5,244.9 460.8,247.1 457.4,242.6 456.3,231.4"/>
<polyline points="467.5,244.9 476.5,240.4 500.0,236.0 513.6,244.9 513.8,245.6"/>
<polyline points="512.4,292.8 505.2,294.5 505.2,303.5 487.3,303.5 480.6,301.2 480.6,290.0 465.2,283.0 458.5,280.8 447.3,280.8 445.1,276.3 447.3,276.3 458.5,267.3 465.2,258.3 467.5,244.9"/>
<polyline points="447.3,280.8 458.5,280.8 465.2,283.0 480.6,290.0 480.6,301.2 487.3,303.5 480.6,312.4 479.4,323.6 471.6,327.0 442.4,324.8 441.3,319.2 444.7,303.5 447.3,294.2 447.3,280.8"/>
<polyline points="531.6,204.5 540.6,202.2 547.3,209.0 551.8,215.7 555.5,216.4"/>
<polyline points="566.0,227.9 566.4,229.2 556.3,238.1 547.3,242.6 536.1,243.7 529.3,240.4 524.9,231.4 522.6,224.7 527.1,211.2 531.6,204.5"/>
<polyline points="554.0,215.7 567.5,213.5 568.6,226.9 563.0,240.4 554.0,253.8 547.3,265.0 547.3,244.9 556.3,238.1 566.4,229.2 554.0,215.7"/>
<polyline points="538.3,244.9 547.3,244.9 547.3,265.0 538.3,265.0"/>
<polyline points="538.3,246.9 538.3,244.9"/>
<polyline points="519.3,245.0 529.7,245.0 530.8,253.8"/>
<polyline points="522.5,260.4 521.9,260.7 519.3,252.8 519.3,245.0"/>
<polyline points="521.9,258.0 531.0,253.0 536.3,246.3 538.9,246.3 538.9,267.2 535.0,267.2 521.9,262.0 521.9,258.0"/>
<polyline points="515.9,265.0 524.9,262.8 533.8,267.3 540.6,271.8 545.1,280.8 542.8,289.7 545.1,298.7 540.6,303.2 529.8,305.3"/>
<polyline points="529.2,305.3 524.9,300.9 522.9,299.0"/>
<polyline points="514.7,280.6 513.6,276.3 515.9,265.0"/>
<polyline points="487.3,303.5 505.2,303.5 505.2,294.5 514.2,292.2"/>
<polyline points="515.7,302.8 513.6,307.0"/>
<polyline points="511.6,310.5 505.2,314.7 496.3,318.0 487.3,324.8 479.4,323.6 480.6,312.4 487.3,303.5"/>
<polyline points="453.6,366.3 458.4,363.4"/>
<polyline points="463.9,360.1 464.9,359.5 469.4,358.5 478.3,356.3 491.8,349.6 503.0,342.8 505.3,342.8 507.5,352.0 507.5,363.0 498.5,372.0 485.1,378.6 471.6,383.1 457.0,384.2 453.6,377.5 453.6,366.3"/>
<polyline points="509.8,306.9 516.2,306.0"/>
<polyline points="525.3,304.7 525.5,304.7 536.7,304.7 538.9,304.0 537.8,315.9 527.7,324.9 516.5,336.1 512.0,349.6 507.5,352.0 505.3,342.8 503.0,342.8 512.0,331.6 514.3,320.4 509.8,306.9"/>
<polyline points="442.4,324.8 471.6,327.0 468.2,341.6 467.1,355.1 462.6,364.0 455.9,364.0 453.6,357.3 449.2,348.3 444.7,334.9 442.4,324.8"/>
<polyline points="471.6,327.0 487.3,327.0 494.0,337.1 491.8,341.6 482.8,346.1 472.7,353.9 468.2,346.1 470.5,334.9 471.6,327.0"/>
<polyline points="487.3,327.0 496.3,320.3 505.2,318.0 507.5,325.9 506.6,328.4"/>
<polyline points="502.8,334.2 498.5,337.1 494.0,337.1 487.3,327.0"/>
<polyline points="487.3,365.3 494.1,364.2 495.2,369.8 488.4,372.0 487.3,365.3"/>
<polyline points="499.7,356.3 506.4,357.4 507.5,363.0 501.9,364.2 499.7,356.3"/>
<polyline points="543.0,308.5 544.9,308.2"/>
<polyline points="553.1,306.8 556.8,306.2 556.0,316.0 550.8,324.8 546.3,338.0 543.4,345.8 538.9,349.5 535.1,348.8 535.9,339.8 540.4,329.3 543.4,320.4 544.9,312.9 543.0,308.5"/>
<polyline points="557.8,124.4 566.0,132.0 570.2,141.0 570.2,149.1 565.8,146.5"/>
<polyline points="559.2,132.9 557.8,124.4"/>
<polyline points="500.0,117.4 510.4,119.2"/>
<polyline points="516.6,142.2 515.2,141.3"/>
<polyline points="506.7,135.9 504.4,135.3"/>
<polyline points="502.7,134.9 500.0,134.2 500.0,132.1"/>
<polyline points="500.0,128.9 500.0,117.4"/>
<polyline points="516.0,122.0 535.0,118.0 551.0,127.0 562.0,134.0 567.0,148.0 569.2,156.9"/>
<polyline points="563.6,168.8 562.0,168.0 555.0,157.0 544.0,148.0 531.0,143.0 525.4,138.0"/>
<polyline points="521.6,134.2 516.0,122.0"/>
<polyline points="512.3,142.6 517.3,141.4 518.7,141.6"/>
<polyline points="524.2,142.5 530.8,143.6 544.2,148.1 555.4,157.1 562.2,168.3 563.6,171.2"/>
<polyline points="564.1,172.2 566.6,177.3 563.1,184.5"/>
<polyline points="557.9,190.5 555.4,193.0 539.7,196.4 533.0,190.8 526.3,179.5 519.5,168.3 508.3,152.6 508.3,144.7"/>
<polyline points="506.3,132.2 517.3,130.2 526.3,136.9 524.0,145.9 517.3,141.4 512.3,142.6"/>
<polyline points="507.1,139.5 505.4,133.8"/>
<polyline points="507.0,137.0 512.0,136.0 513.0,143.0 509.0,147.0 506.0,142.0 507.0,137.0"/>
<polyline points="537.5,199.7 548.7,195.2 555.4,193.0 558.0,197.0 561.2,205.7 550.7,208.3 547.3,209.0 540.6,202.2 537.5,199.7"/>
<polyline points="555.8,188.1 566.1,182.0 568.1,192.2 562.0,198.4 555.8,188.1"/>
<polyline stroke="#e0f0e0" stroke-width="0.9" points="296.3,72.7 291.0,80.0 282.5,90.0 272.0,97.5"/>
<polyline stroke="#e8f4e8" stroke-width="0.8" points="256.0,99.0 262.0,96.0 266.0,93.5"/>
<polyline stroke="#e8f4e8" stroke-width="0.8" points="270.0,92.0 275.0,89.0 280.0,86.5"/>
<polyline stroke="#e8f4e8" stroke-width="0.7" points="262.0,101.0 268.0,99.0"/>
<polyline stroke="#e8f4e8" stroke-width="0.8" points="283.0,90.0 287.0,88.5 289.0,86.0"/>
<polyline stroke="#e8f4e8" stroke-width="0.7" points="250.0,104.0 254.0,101.5"/>
<polyline stroke="#2a8a2a" stroke-width="0.6" points="272.2,95.1 286.7,114.4"/>
<polyline stroke="#2a8a2a" stroke-width="0.6" points="226.0,141.0 240.0,162.0"/>
<polyline stroke="#e8f0e8" stroke-width="0.7" points="213.0,338.0 222.0,352.0 231.0,372.0 244.0,395.0 262.0,420.0 268.0,430.0"/>
<polyline stroke="#f4f4f0" stroke-width="0.8" points="225.0,258.0 231.0,257.5 232.0,262.0 229.0,268.5 225.0,266.0 224.5,262.0 225.0,258.0"/>
<polyline stroke="#f4f4f0" stroke-width="1" points="383.0,73.0 385.0,72.5"/>
<polyline stroke="#f4f4f0" stroke-width="1" points="390.0,72.0 392.0,73.5"/>
<polyline stroke="#f4f4f0" stroke-width="1" points="384.0,79.0 386.0,80.0"/>
<polyline stroke="#f4f4f0" stroke-width="0.9" points="395.0,79.0 397.0,80.0"/>
<polyline stroke="#f4f4f0" stroke-width="0.9" points="386.5,84.0 390.0,85.0"/>
<polyline stroke="#8a7a20" stroke-width="0.8" points="396.3,68.0 396.3,77.4"/>
<polyline stroke="#f4f4f0" stroke-width="1.1" points="408.0,69.5 411.0,70.0"/>
<polyline stroke="#f4f4f0" stroke-width="1.1" points="413.0,72.0 416.0,71.0"/>
<polyline stroke="#f4f4f0" stroke-width="0.9" points="409.0,73.5 412.0,74.0"/>
<polyline stroke="#fff" stroke-width="0.8" points="497.9,95.4 506.0,90.0 514.2,96.7 525.1,103.5 527.8,110.3 517.0,109.0 506.0,102.2 499.3,100.8 497.9,95.4"/>
<polyline stroke="#f4f4f0" stroke-width="1" points="459.0,119.0 462.0,118.5"/>
<polyline stroke="#f4f4f0" stroke-width="1" points="463.0,122.0 466.0,123.5"/>
<polyline stroke="#f4f4f0" stroke-width="1" points="468.0,126.0 471.0,127.5"/>
<polyline stroke="#f4f4f0" stroke-width="1" points="474.0,129.0 477.0,131.0"/>
<polyline stroke="#f4f4f0" stroke-width="0.9" points="461.0,127.0 463.0,129.0"/>
<polyline stroke="#f4f4f0" stroke-width="0.9" points="466.0,130.0 469.0,131.0"/>
<polyline stroke="#f4f4f0" stroke-width="0.9" points="456.0,133.0 459.0,132.0"/>
<polyline stroke="#1a6a1a" stroke-width="1.2" points="413.6,206.2 425.0,205.5 436.0,206.6 449.2,207.2"/>
<polyline stroke="#f4f4f0" stroke-width="0.7" points="436.1,246.1 442.0,251.7 446.0,256.0 452.0,256.5 453.0,262.0 447.3,265.0"/>
<polyline stroke="#f0f0f0" stroke-width="1.6" points="427.5,254.5 428.5,254.5"/>
<polyline stroke="#f0f0f0" stroke-width="1.4" points="431.0,251.5 432.0,251.5"/>
<polyline stroke="#f0f0f0" stroke-width="1.6" points="420.5,265.0 421.5,265.0"/>
<polyline stroke="#2a9a2a" stroke-width="1.4" points="423.5,258.5 425.5,258.0"/>
<polyline stroke="#a87410" stroke-width="2.2" points="316.0,122.5 324.0,133.5"/>
<polyline stroke="#a87410" stroke-width="2.2" points="322.0,124.0 330.0,135.0"/>
<polyline stroke="#a87410" stroke-width="1.8" points="344.8,138.6 348.7,147.5"/>
<polyline stroke="#f0f0f0" stroke-width="1.5" points="315.5,122.2 317.5,121.8"/>
<polyline stroke="#f0f0f0" stroke-width="1.5" points="341.0,151.2 343.5,150.0"/>
<polyline stroke="#f0f0f0" stroke-width="1.5" points="348.5,150.8 351.5,149.6"/>
<polyline stroke="#f0f0f0" stroke-width="1.2" points="344.5,138.4 346.0,137.8"/>
</g>
</g>
</svg>
<div id="ltitle">World - Volume index of gross regional product(to the previous year), %</div>
<div class="li" style="left:9px"><i style="background:#e4181c"></i><span>less than 20,00</span></div>
<div class="li" style="left:113px"><i style="background:#e88a0a"></i><span>from 20,00 to 40,00</span></div>
<div class="li" style="left:237px"><i style="background:#f7c318"></i><span>from 40,00 to 60,00</span></div>
<div class="li" style="left:360px"><i style="background:#97c91a"></i><span>from 60,00 to 80,00</span></div>
<div class="li" style="left:485px"><i style="background:#2bbd36"></i><span>from 80,00 to 100,00</span></div>
<div class="li" style="left:615px"><i style="background:#1f6560"></i><span>more than 100,00</span></div>
<div class="li" style="left:730px"><i style="background:#b4b4b4"></i><span>no data</span></div>
<div id="play"></div>
<div id="tl">
<div class="yr" style="left:0">2000</div>
<div class="yr" style="left:190.5px">2001</div>
<div class="yr" style="left:381px">2002</div>
<div class="yr sel" style="left:571.5px"><b>2003</b></div>
<div class="div" style="left:191px"></div>
<div class="div" style="left:381.5px"></div>
</div>
</body></html>
